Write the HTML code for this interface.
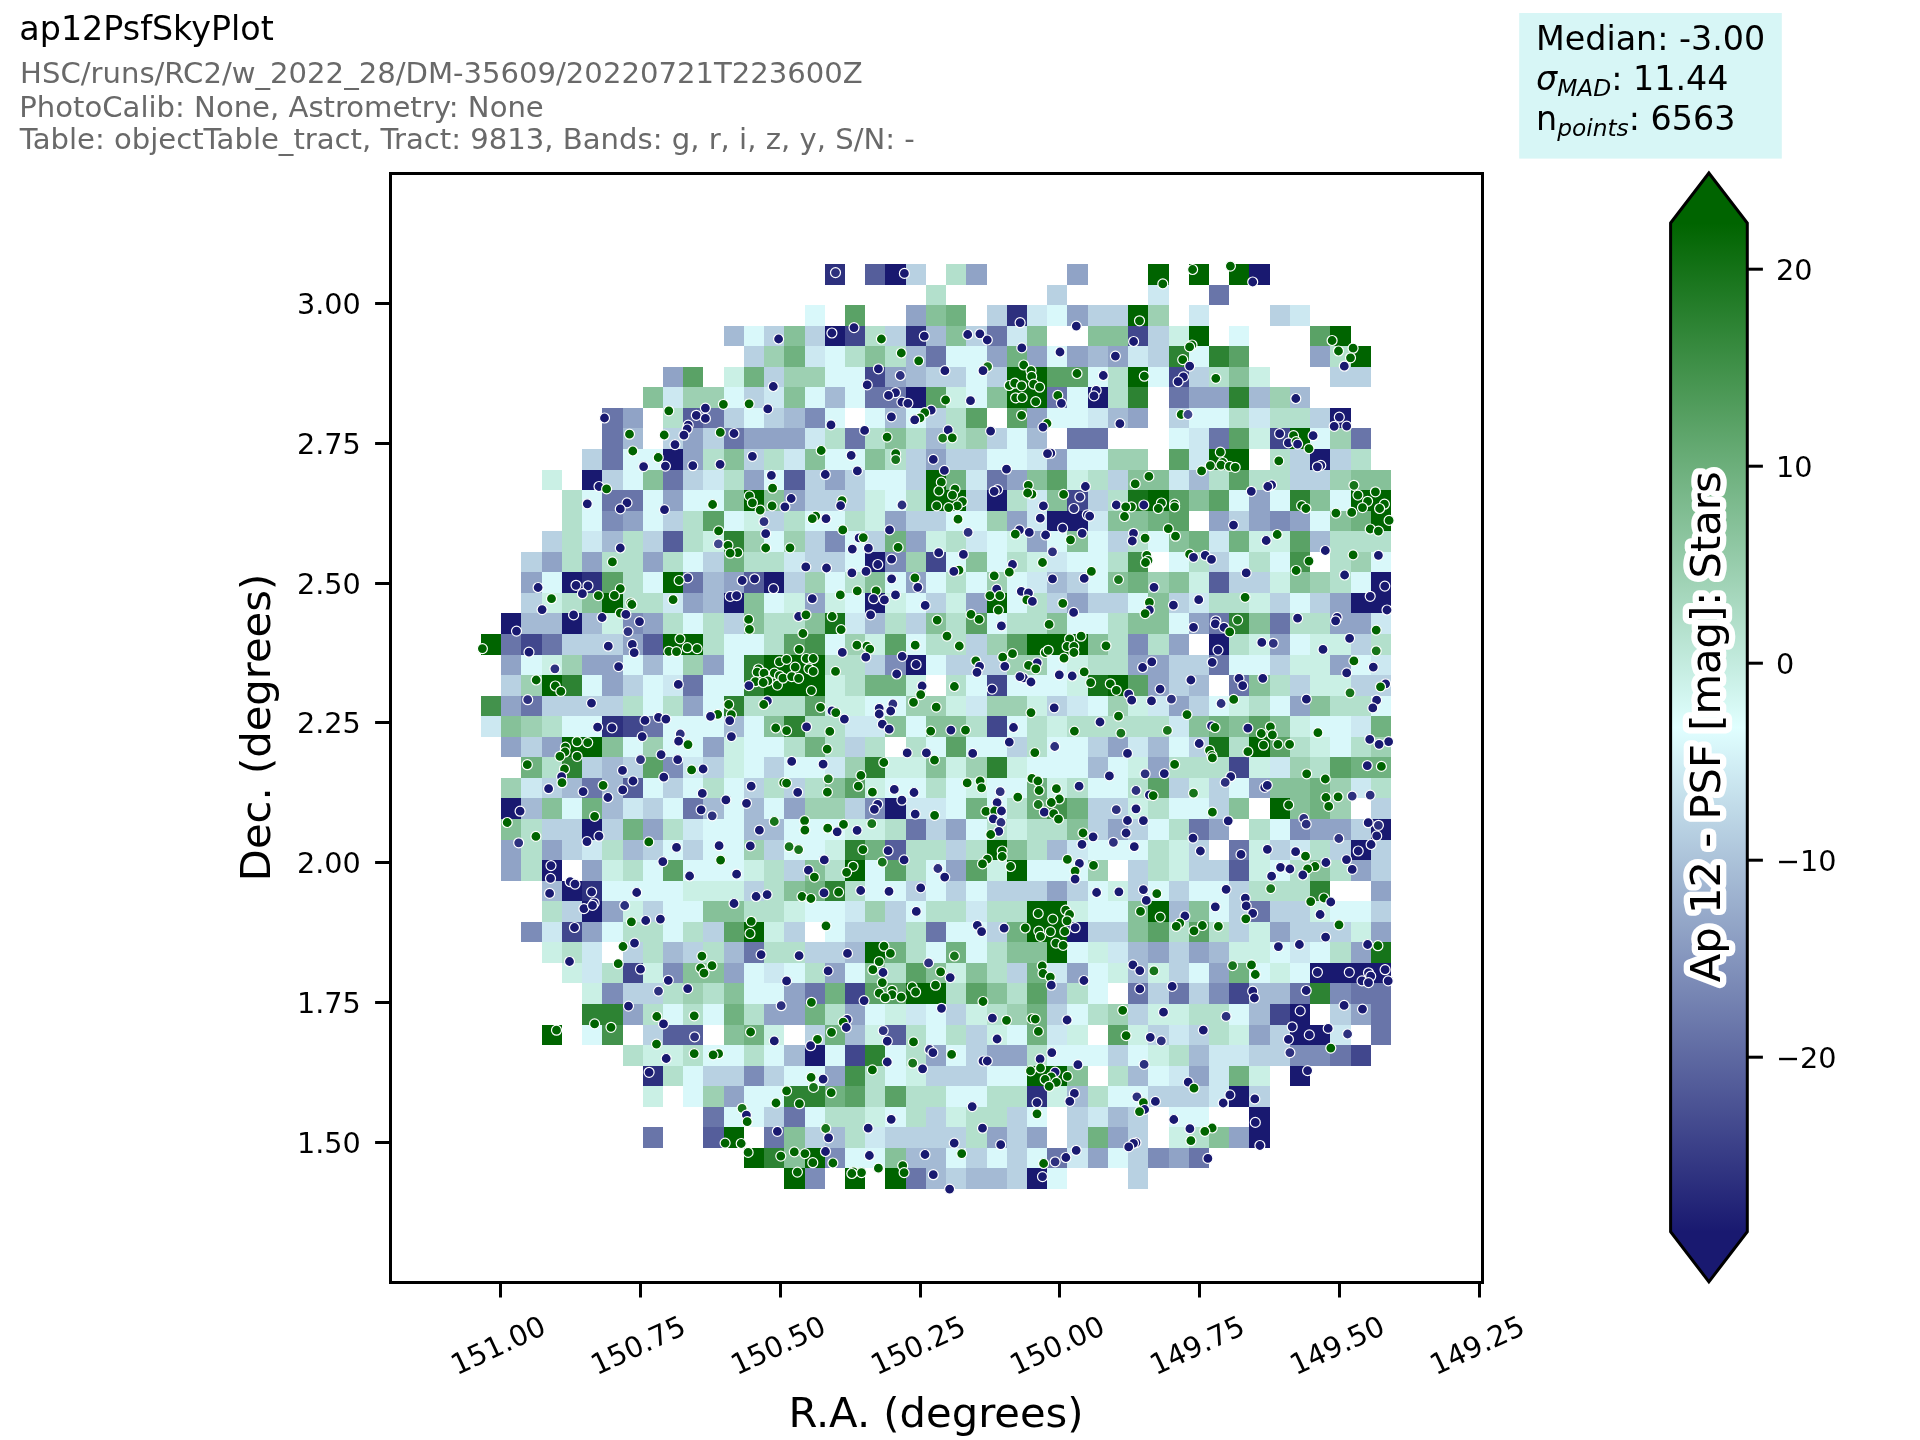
<!DOCTYPE html>
<html><head><meta charset="utf-8"><title>ap12PsfSkyPlot</title>
<style>html,body{margin:0;padding:0;background:#fff}body{width:1920px;height:1440px;overflow:hidden}svg{display:block;will-change:transform}text{font-family:"DejaVu Sans","Liberation Sans",sans-serif}</style></head><body>
<svg width="1920" height="1440" viewBox="0 0 1920 1440">
<rect width="1920" height="1440" fill="#fff"/>
<text x="19.3" y="40" font-size="33.33" fill="#000">ap12PsfSkyPlot</text>
<g font-size="29.1" fill="#696969">
<text x="20.1" y="82.6">HSC/runs/RC2/w_2022_28/DM-35609/20220721T223600Z</text>
<text x="19.3" y="116.5">PhotoCalib: None, Astrometry: None</text>
<text x="19.7" y="149">Table: objectTable_tract, Tract: 9813, Bands: g, r, i, z, y, S/N: -</text>
</g>
<rect x="1519.2" y="13" width="262.6" height="145.6" fill="#d7f6f6"/>
<g font-size="33.33" fill="#000">
<text x="1536" y="49.5">Median: -3.00</text>
<text x="1536" y="89.5"><tspan font-style="italic">σ</tspan><tspan font-style="italic" font-size="23.33" dy="6.5">MAD</tspan><tspan dy="-6.5">: 11.44</tspan></text>
<text x="1536" y="129.5">n<tspan font-style="italic" font-size="23.33" dy="6.5">points</tspan><tspan dy="-6.5">: 6563</tspan></text>
</g>
<g shape-rendering="crispEdges">
<rect x="825" y="264" width="20" height="21" fill="#2d307e"/>
<rect x="865" y="264" width="20" height="21" fill="#555e9b"/>
<rect x="885" y="264" width="21" height="21" fill="#191970"/>
<rect x="906" y="264" width="20" height="21" fill="#b8d1e2"/>
<rect x="946" y="264" width="20" height="21" fill="#b3e0cc"/>
<rect x="966" y="264" width="21" height="21" fill="#90a3c6"/>
<rect x="1067" y="264" width="21" height="21" fill="#90a3c6"/>
<rect x="1148" y="264" width="21" height="21" fill="#006400"/>
<rect x="1189" y="264" width="20" height="21" fill="#006400"/>
<rect x="1229" y="264" width="20" height="21" fill="#006400"/>
<rect x="1249" y="264" width="21" height="21" fill="#191970"/>
<rect x="926" y="285" width="20" height="20" fill="#b3e0cc"/>
<rect x="1047" y="285" width="20" height="20" fill="#b8d1e2"/>
<rect x="1148" y="285" width="21" height="20" fill="#cce8f1"/>
<rect x="1209" y="285" width="20" height="20" fill="#6975a9"/>
<rect x="805" y="305" width="20" height="21" fill="#d9f8fa"/>
<rect x="845" y="305" width="20" height="21" fill="#5aa266"/>
<rect x="906" y="305" width="20" height="21" fill="#90a3c6"/>
<rect x="926" y="305" width="20" height="21" fill="#86c199"/>
<rect x="946" y="305" width="20" height="21" fill="#70b280"/>
<rect x="987" y="305" width="20" height="21" fill="#b8d1e2"/>
<rect x="1007" y="305" width="20" height="21" fill="#2d307e"/>
<rect x="1027" y="305" width="20" height="21" fill="#cce8f1"/>
<rect x="1047" y="305" width="20" height="21" fill="#d9f8fa"/>
<rect x="1067" y="305" width="21" height="21" fill="#90a3c6"/>
<rect x="1088" y="305" width="40" height="21" fill="#b8d1e2"/>
<rect x="1128" y="305" width="20" height="21" fill="#006400"/>
<rect x="1148" y="305" width="21" height="21" fill="#9dd0b2"/>
<rect x="1189" y="305" width="20" height="21" fill="#cce8f1"/>
<rect x="1270" y="305" width="20" height="21" fill="#b8d1e2"/>
<rect x="1290" y="305" width="20" height="21" fill="#cce8f1"/>
<rect x="724" y="326" width="20" height="20" fill="#a4bad4"/>
<rect x="744" y="326" width="20" height="20" fill="#d9f8fa"/>
<rect x="764" y="326" width="20" height="20" fill="#b8d1e2"/>
<rect x="784" y="326" width="21" height="20" fill="#86c199"/>
<rect x="805" y="326" width="20" height="20" fill="#b8d1e2"/>
<rect x="825" y="326" width="20" height="20" fill="#191970"/>
<rect x="845" y="326" width="20" height="20" fill="#41478d"/>
<rect x="865" y="326" width="20" height="20" fill="#b3e0cc"/>
<rect x="885" y="326" width="21" height="20" fill="#b8d1e2"/>
<rect x="906" y="326" width="20" height="20" fill="#2d307e"/>
<rect x="926" y="326" width="20" height="20" fill="#a4bad4"/>
<rect x="946" y="326" width="20" height="20" fill="#86c199"/>
<rect x="966" y="326" width="21" height="20" fill="#b8d1e2"/>
<rect x="987" y="326" width="20" height="20" fill="#6975a9"/>
<rect x="1007" y="326" width="20" height="20" fill="#cce8f1"/>
<rect x="1027" y="326" width="20" height="20" fill="#86c199"/>
<rect x="1088" y="326" width="40" height="20" fill="#86c199"/>
<rect x="1128" y="326" width="20" height="20" fill="#41478d"/>
<rect x="1148" y="326" width="21" height="20" fill="#b8d1e2"/>
<rect x="1169" y="326" width="20" height="20" fill="#caf0e5"/>
<rect x="1189" y="326" width="20" height="20" fill="#006400"/>
<rect x="1229" y="326" width="20" height="20" fill="#d9f8fa"/>
<rect x="1310" y="326" width="20" height="20" fill="#5aa266"/>
<rect x="1330" y="326" width="21" height="20" fill="#006400"/>
<rect x="744" y="346" width="20" height="21" fill="#b8d1e2"/>
<rect x="764" y="346" width="20" height="21" fill="#9dd0b2"/>
<rect x="784" y="346" width="21" height="21" fill="#70b280"/>
<rect x="805" y="346" width="20" height="21" fill="#cce8f1"/>
<rect x="825" y="346" width="20" height="21" fill="#d9f8fa"/>
<rect x="845" y="346" width="20" height="21" fill="#b3e0cc"/>
<rect x="865" y="346" width="20" height="21" fill="#86c199"/>
<rect x="885" y="346" width="21" height="21" fill="#b3e0cc"/>
<rect x="906" y="346" width="20" height="21" fill="#a4bad4"/>
<rect x="926" y="346" width="20" height="21" fill="#6975a9"/>
<rect x="946" y="346" width="41" height="21" fill="#d9f8fa"/>
<rect x="987" y="346" width="20" height="21" fill="#90a3c6"/>
<rect x="1007" y="346" width="20" height="21" fill="#70b280"/>
<rect x="1027" y="346" width="20" height="21" fill="#90a3c6"/>
<rect x="1047" y="346" width="20" height="21" fill="#d9f8fa"/>
<rect x="1067" y="346" width="21" height="21" fill="#90a3c6"/>
<rect x="1088" y="346" width="20" height="21" fill="#a4bad4"/>
<rect x="1108" y="346" width="20" height="21" fill="#90a3c6"/>
<rect x="1128" y="346" width="20" height="21" fill="#cce8f1"/>
<rect x="1148" y="346" width="21" height="21" fill="#b8d1e2"/>
<rect x="1169" y="346" width="20" height="21" fill="#2d8333"/>
<rect x="1189" y="346" width="20" height="21" fill="#d9f8fa"/>
<rect x="1209" y="346" width="20" height="21" fill="#2d8333"/>
<rect x="1229" y="346" width="20" height="21" fill="#5aa266"/>
<rect x="1310" y="346" width="20" height="21" fill="#90a3c6"/>
<rect x="1330" y="346" width="21" height="21" fill="#b3e0cc"/>
<rect x="1351" y="346" width="20" height="21" fill="#006400"/>
<rect x="663" y="367" width="20" height="20" fill="#90a3c6"/>
<rect x="683" y="367" width="20" height="20" fill="#5aa266"/>
<rect x="724" y="367" width="20" height="20" fill="#caf0e5"/>
<rect x="744" y="367" width="20" height="20" fill="#70b280"/>
<rect x="764" y="367" width="20" height="20" fill="#b8d1e2"/>
<rect x="784" y="367" width="41" height="20" fill="#9dd0b2"/>
<rect x="825" y="367" width="40" height="20" fill="#d9f8fa"/>
<rect x="865" y="367" width="20" height="20" fill="#41478d"/>
<rect x="885" y="367" width="21" height="20" fill="#90a3c6"/>
<rect x="906" y="367" width="20" height="20" fill="#a4bad4"/>
<rect x="926" y="367" width="40" height="20" fill="#b8d1e2"/>
<rect x="966" y="367" width="21" height="20" fill="#d9f8fa"/>
<rect x="987" y="367" width="20" height="20" fill="#b8d1e2"/>
<rect x="1007" y="367" width="40" height="20" fill="#006400"/>
<rect x="1047" y="367" width="41" height="20" fill="#5aa266"/>
<rect x="1088" y="367" width="20" height="20" fill="#d9f8fa"/>
<rect x="1108" y="367" width="20" height="20" fill="#b3e0cc"/>
<rect x="1128" y="367" width="20" height="20" fill="#006400"/>
<rect x="1148" y="367" width="21" height="20" fill="#d9f8fa"/>
<rect x="1169" y="367" width="20" height="20" fill="#41478d"/>
<rect x="1189" y="367" width="20" height="20" fill="#b8d1e2"/>
<rect x="1209" y="367" width="20" height="20" fill="#b3e0cc"/>
<rect x="1229" y="367" width="20" height="20" fill="#86c199"/>
<rect x="1249" y="367" width="21" height="20" fill="#caf0e5"/>
<rect x="1330" y="367" width="41" height="20" fill="#b8d1e2"/>
<rect x="643" y="387" width="20" height="21" fill="#86c199"/>
<rect x="663" y="387" width="20" height="21" fill="#cce8f1"/>
<rect x="683" y="387" width="41" height="21" fill="#9dd0b2"/>
<rect x="724" y="387" width="20" height="21" fill="#d9f8fa"/>
<rect x="744" y="387" width="20" height="21" fill="#b8d1e2"/>
<rect x="764" y="387" width="20" height="21" fill="#cce8f1"/>
<rect x="784" y="387" width="21" height="21" fill="#86c199"/>
<rect x="805" y="387" width="20" height="21" fill="#d9f8fa"/>
<rect x="825" y="387" width="20" height="21" fill="#a4bad4"/>
<rect x="845" y="387" width="20" height="21" fill="#d9f8fa"/>
<rect x="865" y="387" width="41" height="21" fill="#6975a9"/>
<rect x="906" y="387" width="20" height="21" fill="#191970"/>
<rect x="926" y="387" width="20" height="21" fill="#5aa266"/>
<rect x="946" y="387" width="20" height="21" fill="#caf0e5"/>
<rect x="966" y="387" width="21" height="21" fill="#d9f8fa"/>
<rect x="987" y="387" width="20" height="21" fill="#86c199"/>
<rect x="1007" y="387" width="40" height="21" fill="#006400"/>
<rect x="1047" y="387" width="20" height="21" fill="#6975a9"/>
<rect x="1067" y="387" width="21" height="21" fill="#d9f8fa"/>
<rect x="1088" y="387" width="20" height="21" fill="#191970"/>
<rect x="1108" y="387" width="20" height="21" fill="#b3e0cc"/>
<rect x="1128" y="387" width="20" height="21" fill="#2d8333"/>
<rect x="1169" y="387" width="20" height="21" fill="#6975a9"/>
<rect x="1189" y="387" width="40" height="21" fill="#90a3c6"/>
<rect x="1229" y="387" width="20" height="21" fill="#2d8333"/>
<rect x="1249" y="387" width="21" height="21" fill="#a4bad4"/>
<rect x="1270" y="387" width="20" height="21" fill="#9dd0b2"/>
<rect x="1290" y="387" width="20" height="21" fill="#a4bad4"/>
<rect x="602" y="408" width="21" height="20" fill="#6975a9"/>
<rect x="623" y="408" width="20" height="20" fill="#90a3c6"/>
<rect x="663" y="408" width="20" height="20" fill="#b3e0cc"/>
<rect x="683" y="408" width="20" height="20" fill="#555e9b"/>
<rect x="703" y="408" width="21" height="20" fill="#6975a9"/>
<rect x="724" y="408" width="20" height="20" fill="#b8d1e2"/>
<rect x="744" y="408" width="20" height="20" fill="#d9f8fa"/>
<rect x="764" y="408" width="20" height="20" fill="#b8d1e2"/>
<rect x="784" y="408" width="21" height="20" fill="#a4bad4"/>
<rect x="805" y="408" width="20" height="20" fill="#7c8cb8"/>
<rect x="825" y="408" width="20" height="20" fill="#d9f8fa"/>
<rect x="865" y="408" width="20" height="20" fill="#d9f8fa"/>
<rect x="885" y="408" width="21" height="20" fill="#a4bad4"/>
<rect x="906" y="408" width="20" height="20" fill="#d9f8fa"/>
<rect x="926" y="408" width="20" height="20" fill="#b8d1e2"/>
<rect x="946" y="408" width="20" height="20" fill="#b3e0cc"/>
<rect x="966" y="408" width="21" height="20" fill="#5aa266"/>
<rect x="1007" y="408" width="20" height="20" fill="#5aa266"/>
<rect x="1027" y="408" width="20" height="20" fill="#90a3c6"/>
<rect x="1047" y="408" width="41" height="20" fill="#d9f8fa"/>
<rect x="1088" y="408" width="20" height="20" fill="#cce8f1"/>
<rect x="1108" y="408" width="20" height="20" fill="#a4bad4"/>
<rect x="1128" y="408" width="20" height="20" fill="#90a3c6"/>
<rect x="1169" y="408" width="20" height="20" fill="#b8d1e2"/>
<rect x="1189" y="408" width="40" height="20" fill="#d9f8fa"/>
<rect x="1229" y="408" width="20" height="20" fill="#b3e0cc"/>
<rect x="1249" y="408" width="21" height="20" fill="#cce8f1"/>
<rect x="1270" y="408" width="40" height="20" fill="#b3e0cc"/>
<rect x="1310" y="408" width="20" height="20" fill="#b8d1e2"/>
<rect x="1330" y="408" width="21" height="20" fill="#191970"/>
<rect x="602" y="428" width="21" height="21" fill="#6975a9"/>
<rect x="623" y="428" width="20" height="21" fill="#a4bad4"/>
<rect x="663" y="428" width="20" height="21" fill="#b8d1e2"/>
<rect x="683" y="428" width="20" height="21" fill="#90a3c6"/>
<rect x="703" y="428" width="21" height="21" fill="#b8d1e2"/>
<rect x="724" y="428" width="20" height="21" fill="#6975a9"/>
<rect x="744" y="428" width="61" height="21" fill="#90a3c6"/>
<rect x="805" y="428" width="20" height="21" fill="#cce8f1"/>
<rect x="825" y="428" width="20" height="21" fill="#b3e0cc"/>
<rect x="845" y="428" width="20" height="21" fill="#6975a9"/>
<rect x="865" y="428" width="20" height="21" fill="#b3e0cc"/>
<rect x="885" y="428" width="21" height="21" fill="#86c199"/>
<rect x="906" y="428" width="20" height="21" fill="#b3e0cc"/>
<rect x="926" y="428" width="20" height="21" fill="#a4bad4"/>
<rect x="946" y="428" width="20" height="21" fill="#b3e0cc"/>
<rect x="966" y="428" width="21" height="21" fill="#9dd0b2"/>
<rect x="987" y="428" width="20" height="21" fill="#b8d1e2"/>
<rect x="1007" y="428" width="20" height="21" fill="#d9f8fa"/>
<rect x="1027" y="428" width="20" height="21" fill="#a4bad4"/>
<rect x="1067" y="428" width="41" height="21" fill="#6975a9"/>
<rect x="1169" y="428" width="20" height="21" fill="#d9f8fa"/>
<rect x="1189" y="428" width="20" height="21" fill="#cce8f1"/>
<rect x="1209" y="428" width="20" height="21" fill="#6975a9"/>
<rect x="1229" y="428" width="20" height="21" fill="#5aa266"/>
<rect x="1249" y="428" width="21" height="21" fill="#caf0e5"/>
<rect x="1270" y="428" width="20" height="21" fill="#41478d"/>
<rect x="1290" y="428" width="20" height="21" fill="#006400"/>
<rect x="1310" y="428" width="20" height="21" fill="#d9f8fa"/>
<rect x="1330" y="428" width="21" height="21" fill="#9dd0b2"/>
<rect x="1351" y="428" width="20" height="21" fill="#6975a9"/>
<rect x="582" y="449" width="20" height="21" fill="#b8d1e2"/>
<rect x="602" y="449" width="21" height="21" fill="#6975a9"/>
<rect x="623" y="449" width="40" height="21" fill="#d9f8fa"/>
<rect x="663" y="449" width="20" height="21" fill="#191970"/>
<rect x="683" y="449" width="20" height="21" fill="#90a3c6"/>
<rect x="703" y="449" width="21" height="21" fill="#b3e0cc"/>
<rect x="724" y="449" width="20" height="21" fill="#86c199"/>
<rect x="744" y="449" width="20" height="21" fill="#b8d1e2"/>
<rect x="764" y="449" width="20" height="21" fill="#b3e0cc"/>
<rect x="784" y="449" width="21" height="21" fill="#cce8f1"/>
<rect x="805" y="449" width="20" height="21" fill="#86c199"/>
<rect x="825" y="449" width="40" height="21" fill="#d9f8fa"/>
<rect x="865" y="449" width="20" height="21" fill="#86c199"/>
<rect x="885" y="449" width="21" height="21" fill="#b3e0cc"/>
<rect x="906" y="449" width="20" height="21" fill="#b8d1e2"/>
<rect x="926" y="449" width="20" height="21" fill="#90a3c6"/>
<rect x="946" y="449" width="41" height="21" fill="#b8d1e2"/>
<rect x="987" y="449" width="40" height="21" fill="#d9f8fa"/>
<rect x="1027" y="449" width="20" height="21" fill="#cce8f1"/>
<rect x="1047" y="449" width="20" height="21" fill="#90a3c6"/>
<rect x="1067" y="449" width="41" height="21" fill="#d9f8fa"/>
<rect x="1108" y="449" width="40" height="21" fill="#9dd0b2"/>
<rect x="1169" y="449" width="20" height="21" fill="#5aa266"/>
<rect x="1189" y="449" width="20" height="21" fill="#cce8f1"/>
<rect x="1209" y="449" width="40" height="21" fill="#006400"/>
<rect x="1270" y="449" width="20" height="21" fill="#b3e0cc"/>
<rect x="1290" y="449" width="20" height="21" fill="#b8d1e2"/>
<rect x="1310" y="449" width="20" height="21" fill="#191970"/>
<rect x="1330" y="449" width="21" height="21" fill="#b8d1e2"/>
<rect x="1351" y="449" width="20" height="21" fill="#b3e0cc"/>
<rect x="542" y="470" width="20" height="20" fill="#caf0e5"/>
<rect x="582" y="470" width="20" height="20" fill="#191970"/>
<rect x="602" y="470" width="21" height="20" fill="#b8d1e2"/>
<rect x="623" y="470" width="20" height="20" fill="#d9f8fa"/>
<rect x="643" y="470" width="20" height="20" fill="#86c199"/>
<rect x="663" y="470" width="20" height="20" fill="#6975a9"/>
<rect x="683" y="470" width="20" height="20" fill="#b8d1e2"/>
<rect x="703" y="470" width="21" height="20" fill="#cce8f1"/>
<rect x="724" y="470" width="20" height="20" fill="#b3e0cc"/>
<rect x="744" y="470" width="20" height="20" fill="#90a3c6"/>
<rect x="764" y="470" width="20" height="20" fill="#d9f8fa"/>
<rect x="784" y="470" width="21" height="20" fill="#555e9b"/>
<rect x="805" y="470" width="20" height="20" fill="#b8d1e2"/>
<rect x="825" y="470" width="20" height="20" fill="#90a3c6"/>
<rect x="845" y="470" width="20" height="20" fill="#b8d1e2"/>
<rect x="865" y="470" width="41" height="20" fill="#d9f8fa"/>
<rect x="906" y="470" width="20" height="20" fill="#b8d1e2"/>
<rect x="926" y="470" width="20" height="20" fill="#006400"/>
<rect x="946" y="470" width="20" height="20" fill="#70b280"/>
<rect x="966" y="470" width="21" height="20" fill="#cce8f1"/>
<rect x="987" y="470" width="20" height="20" fill="#6975a9"/>
<rect x="1007" y="470" width="20" height="20" fill="#90a3c6"/>
<rect x="1027" y="470" width="20" height="20" fill="#86c199"/>
<rect x="1047" y="470" width="20" height="20" fill="#5aa266"/>
<rect x="1067" y="470" width="21" height="20" fill="#caf0e5"/>
<rect x="1088" y="470" width="20" height="20" fill="#b3e0cc"/>
<rect x="1108" y="470" width="20" height="20" fill="#b8d1e2"/>
<rect x="1128" y="470" width="41" height="20" fill="#86c199"/>
<rect x="1169" y="470" width="20" height="20" fill="#cce8f1"/>
<rect x="1189" y="470" width="20" height="20" fill="#a4bad4"/>
<rect x="1209" y="470" width="20" height="20" fill="#b3e0cc"/>
<rect x="1229" y="470" width="20" height="20" fill="#5aa266"/>
<rect x="1249" y="470" width="41" height="20" fill="#b3e0cc"/>
<rect x="1290" y="470" width="40" height="20" fill="#b8d1e2"/>
<rect x="1330" y="470" width="21" height="20" fill="#9dd0b2"/>
<rect x="1351" y="470" width="40" height="20" fill="#86c199"/>
<rect x="562" y="490" width="20" height="21" fill="#b3e0cc"/>
<rect x="582" y="490" width="20" height="21" fill="#d9f8fa"/>
<rect x="602" y="490" width="41" height="21" fill="#6975a9"/>
<rect x="643" y="490" width="20" height="21" fill="#d9f8fa"/>
<rect x="663" y="490" width="20" height="21" fill="#90a3c6"/>
<rect x="683" y="490" width="41" height="21" fill="#d9f8fa"/>
<rect x="724" y="490" width="20" height="21" fill="#86c199"/>
<rect x="744" y="490" width="20" height="21" fill="#006400"/>
<rect x="764" y="490" width="20" height="21" fill="#86c199"/>
<rect x="784" y="490" width="21" height="21" fill="#90a3c6"/>
<rect x="805" y="490" width="60" height="21" fill="#b8d1e2"/>
<rect x="865" y="490" width="20" height="21" fill="#caf0e5"/>
<rect x="885" y="490" width="21" height="21" fill="#d9f8fa"/>
<rect x="906" y="490" width="20" height="21" fill="#b3e0cc"/>
<rect x="926" y="490" width="40" height="21" fill="#006400"/>
<rect x="966" y="490" width="21" height="21" fill="#b8d1e2"/>
<rect x="987" y="490" width="20" height="21" fill="#191970"/>
<rect x="1007" y="490" width="20" height="21" fill="#b3e0cc"/>
<rect x="1027" y="490" width="20" height="21" fill="#cce8f1"/>
<rect x="1047" y="490" width="20" height="21" fill="#86c199"/>
<rect x="1067" y="490" width="21" height="21" fill="#41478d"/>
<rect x="1088" y="490" width="20" height="21" fill="#b8d1e2"/>
<rect x="1108" y="490" width="20" height="21" fill="#b3e0cc"/>
<rect x="1128" y="490" width="20" height="21" fill="#16741a"/>
<rect x="1148" y="490" width="21" height="21" fill="#006400"/>
<rect x="1169" y="490" width="20" height="21" fill="#5aa266"/>
<rect x="1189" y="490" width="20" height="21" fill="#86c199"/>
<rect x="1209" y="490" width="20" height="21" fill="#5aa266"/>
<rect x="1229" y="490" width="20" height="21" fill="#d9f8fa"/>
<rect x="1249" y="490" width="21" height="21" fill="#90a3c6"/>
<rect x="1270" y="490" width="20" height="21" fill="#d9f8fa"/>
<rect x="1290" y="490" width="20" height="21" fill="#2d8333"/>
<rect x="1310" y="490" width="20" height="21" fill="#86c199"/>
<rect x="1330" y="490" width="21" height="21" fill="#d9f8fa"/>
<rect x="1351" y="490" width="40" height="21" fill="#006400"/>
<rect x="562" y="511" width="20" height="20" fill="#b3e0cc"/>
<rect x="582" y="511" width="20" height="20" fill="#d9f8fa"/>
<rect x="602" y="511" width="21" height="20" fill="#7c8cb8"/>
<rect x="623" y="511" width="20" height="20" fill="#90a3c6"/>
<rect x="643" y="511" width="20" height="20" fill="#d9f8fa"/>
<rect x="663" y="511" width="20" height="20" fill="#b8d1e2"/>
<rect x="683" y="511" width="20" height="20" fill="#b3e0cc"/>
<rect x="703" y="511" width="21" height="20" fill="#5aa266"/>
<rect x="724" y="511" width="20" height="20" fill="#d9f8fa"/>
<rect x="744" y="511" width="20" height="20" fill="#caf0e5"/>
<rect x="764" y="511" width="20" height="20" fill="#b8d1e2"/>
<rect x="784" y="511" width="21" height="20" fill="#b3e0cc"/>
<rect x="805" y="511" width="40" height="20" fill="#d9f8fa"/>
<rect x="845" y="511" width="20" height="20" fill="#b3e0cc"/>
<rect x="865" y="511" width="20" height="20" fill="#caf0e5"/>
<rect x="885" y="511" width="21" height="20" fill="#90a3c6"/>
<rect x="906" y="511" width="40" height="20" fill="#b8d1e2"/>
<rect x="946" y="511" width="41" height="20" fill="#d9f8fa"/>
<rect x="987" y="511" width="20" height="20" fill="#9dd0b2"/>
<rect x="1007" y="511" width="20" height="20" fill="#90a3c6"/>
<rect x="1027" y="511" width="20" height="20" fill="#cce8f1"/>
<rect x="1047" y="511" width="41" height="20" fill="#191970"/>
<rect x="1088" y="511" width="20" height="20" fill="#cce8f1"/>
<rect x="1108" y="511" width="40" height="20" fill="#86c199"/>
<rect x="1148" y="511" width="21" height="20" fill="#70b280"/>
<rect x="1169" y="511" width="20" height="20" fill="#5aa266"/>
<rect x="1209" y="511" width="20" height="20" fill="#90a3c6"/>
<rect x="1229" y="511" width="20" height="20" fill="#b8d1e2"/>
<rect x="1249" y="511" width="21" height="20" fill="#90a3c6"/>
<rect x="1270" y="511" width="20" height="20" fill="#7c8cb8"/>
<rect x="1290" y="511" width="20" height="20" fill="#90a3c6"/>
<rect x="1310" y="511" width="20" height="20" fill="#d9f8fa"/>
<rect x="1330" y="511" width="21" height="20" fill="#86c199"/>
<rect x="1351" y="511" width="20" height="20" fill="#70b280"/>
<rect x="1371" y="511" width="20" height="20" fill="#006400"/>
<rect x="542" y="531" width="20" height="21" fill="#b8d1e2"/>
<rect x="562" y="531" width="20" height="21" fill="#b3e0cc"/>
<rect x="582" y="531" width="20" height="21" fill="#cce8f1"/>
<rect x="602" y="531" width="21" height="21" fill="#a4bad4"/>
<rect x="623" y="531" width="20" height="21" fill="#b3e0cc"/>
<rect x="643" y="531" width="20" height="21" fill="#b8d1e2"/>
<rect x="663" y="531" width="20" height="21" fill="#555e9b"/>
<rect x="683" y="531" width="20" height="21" fill="#b3e0cc"/>
<rect x="703" y="531" width="21" height="21" fill="#caf0e5"/>
<rect x="724" y="531" width="20" height="21" fill="#2d8333"/>
<rect x="744" y="531" width="20" height="21" fill="#9dd0b2"/>
<rect x="764" y="531" width="20" height="21" fill="#d9f8fa"/>
<rect x="784" y="531" width="21" height="21" fill="#9dd0b2"/>
<rect x="805" y="531" width="20" height="21" fill="#b8d1e2"/>
<rect x="825" y="531" width="20" height="21" fill="#7c8cb8"/>
<rect x="845" y="531" width="20" height="21" fill="#d9f8fa"/>
<rect x="865" y="531" width="20" height="21" fill="#b8d1e2"/>
<rect x="885" y="531" width="21" height="21" fill="#70b280"/>
<rect x="906" y="531" width="20" height="21" fill="#90a3c6"/>
<rect x="926" y="531" width="20" height="21" fill="#caf0e5"/>
<rect x="946" y="531" width="20" height="21" fill="#b3e0cc"/>
<rect x="966" y="531" width="21" height="21" fill="#cce8f1"/>
<rect x="987" y="531" width="20" height="21" fill="#d9f8fa"/>
<rect x="1007" y="531" width="20" height="21" fill="#caf0e5"/>
<rect x="1027" y="531" width="20" height="21" fill="#90a3c6"/>
<rect x="1047" y="531" width="20" height="21" fill="#d9f8fa"/>
<rect x="1067" y="531" width="21" height="21" fill="#86c199"/>
<rect x="1088" y="531" width="20" height="21" fill="#d9f8fa"/>
<rect x="1108" y="531" width="20" height="21" fill="#b8d1e2"/>
<rect x="1128" y="531" width="20" height="21" fill="#b3e0cc"/>
<rect x="1148" y="531" width="21" height="21" fill="#d9f8fa"/>
<rect x="1169" y="531" width="20" height="21" fill="#86c199"/>
<rect x="1189" y="531" width="20" height="21" fill="#70b280"/>
<rect x="1209" y="531" width="20" height="21" fill="#cce8f1"/>
<rect x="1229" y="531" width="20" height="21" fill="#70b280"/>
<rect x="1249" y="531" width="41" height="21" fill="#caf0e5"/>
<rect x="1290" y="531" width="20" height="21" fill="#5aa266"/>
<rect x="1310" y="531" width="20" height="21" fill="#a4bad4"/>
<rect x="1330" y="531" width="61" height="21" fill="#b3e0cc"/>
<rect x="521" y="552" width="21" height="20" fill="#b8d1e2"/>
<rect x="542" y="552" width="20" height="20" fill="#90a3c6"/>
<rect x="562" y="552" width="20" height="20" fill="#b3e0cc"/>
<rect x="582" y="552" width="20" height="20" fill="#90a3c6"/>
<rect x="602" y="552" width="41" height="20" fill="#b3e0cc"/>
<rect x="643" y="552" width="20" height="20" fill="#90a3c6"/>
<rect x="663" y="552" width="20" height="20" fill="#b3e0cc"/>
<rect x="683" y="552" width="20" height="20" fill="#d9f8fa"/>
<rect x="703" y="552" width="21" height="20" fill="#b8d1e2"/>
<rect x="724" y="552" width="20" height="20" fill="#70b280"/>
<rect x="744" y="552" width="40" height="20" fill="#b3e0cc"/>
<rect x="784" y="552" width="21" height="20" fill="#cce8f1"/>
<rect x="805" y="552" width="40" height="20" fill="#b8d1e2"/>
<rect x="845" y="552" width="20" height="20" fill="#d9f8fa"/>
<rect x="865" y="552" width="20" height="20" fill="#191970"/>
<rect x="885" y="552" width="21" height="20" fill="#7c8cb8"/>
<rect x="906" y="552" width="20" height="20" fill="#9dd0b2"/>
<rect x="926" y="552" width="20" height="20" fill="#41478d"/>
<rect x="946" y="552" width="20" height="20" fill="#d9f8fa"/>
<rect x="966" y="552" width="21" height="20" fill="#86c199"/>
<rect x="987" y="552" width="20" height="20" fill="#d9f8fa"/>
<rect x="1007" y="552" width="20" height="20" fill="#b3e0cc"/>
<rect x="1027" y="552" width="20" height="20" fill="#caf0e5"/>
<rect x="1047" y="552" width="20" height="20" fill="#cce8f1"/>
<rect x="1067" y="552" width="41" height="20" fill="#d9f8fa"/>
<rect x="1108" y="552" width="20" height="20" fill="#b3e0cc"/>
<rect x="1128" y="552" width="20" height="20" fill="#43924c"/>
<rect x="1169" y="552" width="20" height="20" fill="#d9f8fa"/>
<rect x="1189" y="552" width="20" height="20" fill="#b3e0cc"/>
<rect x="1209" y="552" width="20" height="20" fill="#b8d1e2"/>
<rect x="1229" y="552" width="20" height="20" fill="#d9f8fa"/>
<rect x="1249" y="552" width="21" height="20" fill="#b3e0cc"/>
<rect x="1270" y="552" width="20" height="20" fill="#d9f8fa"/>
<rect x="1290" y="552" width="20" height="20" fill="#43924c"/>
<rect x="1330" y="552" width="21" height="20" fill="#b3e0cc"/>
<rect x="1351" y="552" width="20" height="20" fill="#9dd0b2"/>
<rect x="1371" y="552" width="20" height="20" fill="#d9f8fa"/>
<rect x="521" y="572" width="21" height="21" fill="#90a3c6"/>
<rect x="542" y="572" width="20" height="21" fill="#d9f8fa"/>
<rect x="562" y="572" width="20" height="21" fill="#191970"/>
<rect x="582" y="572" width="20" height="21" fill="#2d307e"/>
<rect x="602" y="572" width="21" height="21" fill="#5aa266"/>
<rect x="623" y="572" width="20" height="21" fill="#b3e0cc"/>
<rect x="643" y="572" width="20" height="21" fill="#d9f8fa"/>
<rect x="663" y="572" width="20" height="21" fill="#006400"/>
<rect x="683" y="572" width="20" height="21" fill="#6975a9"/>
<rect x="703" y="572" width="21" height="21" fill="#a4bad4"/>
<rect x="724" y="572" width="20" height="21" fill="#90a3c6"/>
<rect x="744" y="572" width="20" height="21" fill="#555e9b"/>
<rect x="764" y="572" width="20" height="21" fill="#191970"/>
<rect x="784" y="572" width="21" height="21" fill="#b8d1e2"/>
<rect x="805" y="572" width="20" height="21" fill="#9dd0b2"/>
<rect x="825" y="572" width="20" height="21" fill="#d9f8fa"/>
<rect x="845" y="572" width="20" height="21" fill="#b3e0cc"/>
<rect x="865" y="572" width="20" height="21" fill="#86c199"/>
<rect x="885" y="572" width="21" height="21" fill="#d9f8fa"/>
<rect x="906" y="572" width="20" height="21" fill="#90a3c6"/>
<rect x="926" y="572" width="20" height="21" fill="#d9f8fa"/>
<rect x="946" y="572" width="20" height="21" fill="#b3e0cc"/>
<rect x="966" y="572" width="21" height="21" fill="#d9f8fa"/>
<rect x="987" y="572" width="20" height="21" fill="#9dd0b2"/>
<rect x="1007" y="572" width="20" height="21" fill="#d9f8fa"/>
<rect x="1027" y="572" width="20" height="21" fill="#cce8f1"/>
<rect x="1047" y="572" width="20" height="21" fill="#a4bad4"/>
<rect x="1067" y="572" width="21" height="21" fill="#b8d1e2"/>
<rect x="1088" y="572" width="20" height="21" fill="#d9f8fa"/>
<rect x="1108" y="572" width="20" height="21" fill="#86c199"/>
<rect x="1128" y="572" width="20" height="21" fill="#70b280"/>
<rect x="1148" y="572" width="21" height="21" fill="#9dd0b2"/>
<rect x="1169" y="572" width="20" height="21" fill="#86c199"/>
<rect x="1189" y="572" width="20" height="21" fill="#caf0e5"/>
<rect x="1209" y="572" width="20" height="21" fill="#555e9b"/>
<rect x="1229" y="572" width="41" height="21" fill="#b8d1e2"/>
<rect x="1270" y="572" width="20" height="21" fill="#caf0e5"/>
<rect x="1290" y="572" width="20" height="21" fill="#86c199"/>
<rect x="1310" y="572" width="20" height="21" fill="#9dd0b2"/>
<rect x="1330" y="572" width="21" height="21" fill="#b3e0cc"/>
<rect x="1351" y="572" width="20" height="21" fill="#d9f8fa"/>
<rect x="1371" y="572" width="20" height="21" fill="#191970"/>
<rect x="521" y="593" width="21" height="20" fill="#b8d1e2"/>
<rect x="542" y="593" width="20" height="20" fill="#caf0e5"/>
<rect x="562" y="593" width="20" height="20" fill="#b3e0cc"/>
<rect x="582" y="593" width="20" height="20" fill="#86c199"/>
<rect x="602" y="593" width="21" height="20" fill="#006400"/>
<rect x="623" y="593" width="40" height="20" fill="#b3e0cc"/>
<rect x="663" y="593" width="20" height="20" fill="#cce8f1"/>
<rect x="683" y="593" width="20" height="20" fill="#90a3c6"/>
<rect x="703" y="593" width="21" height="20" fill="#a4bad4"/>
<rect x="724" y="593" width="20" height="20" fill="#191970"/>
<rect x="744" y="593" width="20" height="20" fill="#86c199"/>
<rect x="764" y="593" width="20" height="20" fill="#d9f8fa"/>
<rect x="784" y="593" width="21" height="20" fill="#caf0e5"/>
<rect x="805" y="593" width="20" height="20" fill="#90a3c6"/>
<rect x="825" y="593" width="20" height="20" fill="#caf0e5"/>
<rect x="845" y="593" width="20" height="20" fill="#d9f8fa"/>
<rect x="865" y="593" width="20" height="20" fill="#191970"/>
<rect x="885" y="593" width="21" height="20" fill="#caf0e5"/>
<rect x="906" y="593" width="20" height="20" fill="#d9f8fa"/>
<rect x="926" y="593" width="20" height="20" fill="#b8d1e2"/>
<rect x="946" y="593" width="20" height="20" fill="#caf0e5"/>
<rect x="966" y="593" width="21" height="20" fill="#90a3c6"/>
<rect x="987" y="593" width="20" height="20" fill="#006400"/>
<rect x="1007" y="593" width="20" height="20" fill="#d9f8fa"/>
<rect x="1027" y="593" width="20" height="20" fill="#b3e0cc"/>
<rect x="1047" y="593" width="20" height="20" fill="#b8d1e2"/>
<rect x="1067" y="593" width="21" height="20" fill="#90a3c6"/>
<rect x="1088" y="593" width="40" height="20" fill="#b8d1e2"/>
<rect x="1128" y="593" width="20" height="20" fill="#d9f8fa"/>
<rect x="1148" y="593" width="21" height="20" fill="#86c199"/>
<rect x="1169" y="593" width="20" height="20" fill="#b8d1e2"/>
<rect x="1189" y="593" width="20" height="20" fill="#cce8f1"/>
<rect x="1209" y="593" width="40" height="20" fill="#b3e0cc"/>
<rect x="1249" y="593" width="21" height="20" fill="#caf0e5"/>
<rect x="1270" y="593" width="20" height="20" fill="#b8d1e2"/>
<rect x="1290" y="593" width="20" height="20" fill="#d9f8fa"/>
<rect x="1310" y="593" width="20" height="20" fill="#b8d1e2"/>
<rect x="1330" y="593" width="21" height="20" fill="#90a3c6"/>
<rect x="1351" y="593" width="40" height="20" fill="#191970"/>
<rect x="501" y="613" width="20" height="21" fill="#191970"/>
<rect x="521" y="613" width="41" height="21" fill="#a4bad4"/>
<rect x="562" y="613" width="20" height="21" fill="#191970"/>
<rect x="582" y="613" width="20" height="21" fill="#a4bad4"/>
<rect x="602" y="613" width="21" height="21" fill="#caf0e5"/>
<rect x="623" y="613" width="20" height="21" fill="#7c8cb8"/>
<rect x="643" y="613" width="20" height="21" fill="#90a3c6"/>
<rect x="663" y="613" width="20" height="21" fill="#b3e0cc"/>
<rect x="683" y="613" width="20" height="21" fill="#d9f8fa"/>
<rect x="703" y="613" width="21" height="21" fill="#b3e0cc"/>
<rect x="724" y="613" width="20" height="21" fill="#b8d1e2"/>
<rect x="744" y="613" width="20" height="21" fill="#86c199"/>
<rect x="764" y="613" width="41" height="21" fill="#b3e0cc"/>
<rect x="805" y="613" width="20" height="21" fill="#86c199"/>
<rect x="825" y="613" width="20" height="21" fill="#16741a"/>
<rect x="845" y="613" width="20" height="21" fill="#cce8f1"/>
<rect x="865" y="613" width="20" height="21" fill="#a4bad4"/>
<rect x="885" y="613" width="21" height="21" fill="#b3e0cc"/>
<rect x="906" y="613" width="20" height="21" fill="#b8d1e2"/>
<rect x="926" y="613" width="20" height="21" fill="#86c199"/>
<rect x="946" y="613" width="20" height="21" fill="#b3e0cc"/>
<rect x="966" y="613" width="21" height="21" fill="#5aa266"/>
<rect x="987" y="613" width="20" height="21" fill="#d9f8fa"/>
<rect x="1007" y="613" width="40" height="21" fill="#b3e0cc"/>
<rect x="1047" y="613" width="20" height="21" fill="#86c199"/>
<rect x="1067" y="613" width="41" height="21" fill="#d9f8fa"/>
<rect x="1108" y="613" width="20" height="21" fill="#b3e0cc"/>
<rect x="1128" y="613" width="41" height="21" fill="#86c199"/>
<rect x="1169" y="613" width="20" height="21" fill="#d9f8fa"/>
<rect x="1189" y="613" width="20" height="21" fill="#90a3c6"/>
<rect x="1209" y="613" width="20" height="21" fill="#6975a9"/>
<rect x="1229" y="613" width="20" height="21" fill="#2d8333"/>
<rect x="1249" y="613" width="21" height="21" fill="#86c199"/>
<rect x="1270" y="613" width="20" height="21" fill="#6975a9"/>
<rect x="1290" y="613" width="40" height="21" fill="#b3e0cc"/>
<rect x="1330" y="613" width="41" height="21" fill="#90a3c6"/>
<rect x="1371" y="613" width="20" height="21" fill="#cce8f1"/>
<rect x="481" y="634" width="20" height="21" fill="#006400"/>
<rect x="501" y="634" width="20" height="21" fill="#6975a9"/>
<rect x="521" y="634" width="21" height="21" fill="#41478d"/>
<rect x="542" y="634" width="20" height="21" fill="#6975a9"/>
<rect x="562" y="634" width="61" height="21" fill="#b8d1e2"/>
<rect x="623" y="634" width="20" height="21" fill="#90a3c6"/>
<rect x="643" y="634" width="20" height="21" fill="#555e9b"/>
<rect x="663" y="634" width="40" height="21" fill="#006400"/>
<rect x="703" y="634" width="21" height="21" fill="#b3e0cc"/>
<rect x="724" y="634" width="40" height="21" fill="#d9f8fa"/>
<rect x="764" y="634" width="20" height="21" fill="#b3e0cc"/>
<rect x="784" y="634" width="21" height="21" fill="#5aa266"/>
<rect x="805" y="634" width="20" height="21" fill="#43924c"/>
<rect x="825" y="634" width="20" height="21" fill="#d9f8fa"/>
<rect x="845" y="634" width="20" height="21" fill="#9dd0b2"/>
<rect x="865" y="634" width="20" height="21" fill="#caf0e5"/>
<rect x="885" y="634" width="21" height="21" fill="#5aa266"/>
<rect x="906" y="634" width="20" height="21" fill="#d9f8fa"/>
<rect x="926" y="634" width="40" height="21" fill="#b3e0cc"/>
<rect x="966" y="634" width="21" height="21" fill="#b8d1e2"/>
<rect x="987" y="634" width="20" height="21" fill="#9dd0b2"/>
<rect x="1007" y="634" width="20" height="21" fill="#5aa266"/>
<rect x="1027" y="634" width="61" height="21" fill="#006400"/>
<rect x="1088" y="634" width="20" height="21" fill="#86c199"/>
<rect x="1108" y="634" width="20" height="21" fill="#b3e0cc"/>
<rect x="1128" y="634" width="20" height="21" fill="#7c8cb8"/>
<rect x="1148" y="634" width="21" height="21" fill="#b3e0cc"/>
<rect x="1169" y="634" width="20" height="21" fill="#90a3c6"/>
<rect x="1209" y="634" width="20" height="21" fill="#191970"/>
<rect x="1229" y="634" width="20" height="21" fill="#b3e0cc"/>
<rect x="1249" y="634" width="21" height="21" fill="#caf0e5"/>
<rect x="1270" y="634" width="20" height="21" fill="#90a3c6"/>
<rect x="1290" y="634" width="20" height="21" fill="#d9f8fa"/>
<rect x="1310" y="634" width="41" height="21" fill="#caf0e5"/>
<rect x="1351" y="634" width="20" height="21" fill="#b8d1e2"/>
<rect x="1371" y="634" width="20" height="21" fill="#b3e0cc"/>
<rect x="501" y="655" width="20" height="20" fill="#90a3c6"/>
<rect x="521" y="655" width="21" height="20" fill="#d9f8fa"/>
<rect x="542" y="655" width="20" height="20" fill="#caf0e5"/>
<rect x="562" y="655" width="20" height="20" fill="#9dd0b2"/>
<rect x="582" y="655" width="41" height="20" fill="#90a3c6"/>
<rect x="623" y="655" width="20" height="20" fill="#d9f8fa"/>
<rect x="643" y="655" width="20" height="20" fill="#a4bad4"/>
<rect x="663" y="655" width="20" height="20" fill="#d9f8fa"/>
<rect x="683" y="655" width="20" height="20" fill="#9dd0b2"/>
<rect x="703" y="655" width="21" height="20" fill="#90a3c6"/>
<rect x="724" y="655" width="20" height="20" fill="#d9f8fa"/>
<rect x="744" y="655" width="20" height="20" fill="#2d8333"/>
<rect x="764" y="655" width="61" height="20" fill="#006400"/>
<rect x="825" y="655" width="40" height="20" fill="#b3e0cc"/>
<rect x="865" y="655" width="20" height="20" fill="#b8d1e2"/>
<rect x="885" y="655" width="21" height="20" fill="#7c8cb8"/>
<rect x="906" y="655" width="20" height="20" fill="#191970"/>
<rect x="926" y="655" width="20" height="20" fill="#d9f8fa"/>
<rect x="946" y="655" width="61" height="20" fill="#b8d1e2"/>
<rect x="1007" y="655" width="40" height="20" fill="#9dd0b2"/>
<rect x="1047" y="655" width="20" height="20" fill="#d9f8fa"/>
<rect x="1067" y="655" width="21" height="20" fill="#caf0e5"/>
<rect x="1088" y="655" width="40" height="20" fill="#b3e0cc"/>
<rect x="1128" y="655" width="41" height="20" fill="#90a3c6"/>
<rect x="1169" y="655" width="40" height="20" fill="#b8d1e2"/>
<rect x="1209" y="655" width="20" height="20" fill="#6975a9"/>
<rect x="1229" y="655" width="41" height="20" fill="#d9f8fa"/>
<rect x="1270" y="655" width="20" height="20" fill="#b8d1e2"/>
<rect x="1290" y="655" width="40" height="20" fill="#caf0e5"/>
<rect x="1330" y="655" width="21" height="20" fill="#90a3c6"/>
<rect x="1351" y="655" width="20" height="20" fill="#d9f8fa"/>
<rect x="1371" y="655" width="20" height="20" fill="#cce8f1"/>
<rect x="501" y="675" width="20" height="21" fill="#b8d1e2"/>
<rect x="521" y="675" width="21" height="21" fill="#9dd0b2"/>
<rect x="542" y="675" width="20" height="21" fill="#006400"/>
<rect x="562" y="675" width="20" height="21" fill="#2d8333"/>
<rect x="582" y="675" width="20" height="21" fill="#d9f8fa"/>
<rect x="602" y="675" width="21" height="21" fill="#90a3c6"/>
<rect x="623" y="675" width="20" height="21" fill="#b8d1e2"/>
<rect x="643" y="675" width="20" height="21" fill="#d9f8fa"/>
<rect x="663" y="675" width="20" height="21" fill="#cce8f1"/>
<rect x="683" y="675" width="20" height="21" fill="#6975a9"/>
<rect x="703" y="675" width="41" height="21" fill="#d9f8fa"/>
<rect x="744" y="675" width="20" height="21" fill="#2d8333"/>
<rect x="764" y="675" width="61" height="21" fill="#006400"/>
<rect x="825" y="675" width="20" height="21" fill="#caf0e5"/>
<rect x="845" y="675" width="20" height="21" fill="#b3e0cc"/>
<rect x="865" y="675" width="41" height="21" fill="#70b280"/>
<rect x="906" y="675" width="20" height="21" fill="#caf0e5"/>
<rect x="946" y="675" width="20" height="21" fill="#b3e0cc"/>
<rect x="966" y="675" width="21" height="21" fill="#d9f8fa"/>
<rect x="987" y="675" width="20" height="21" fill="#41478d"/>
<rect x="1007" y="675" width="60" height="21" fill="#d9f8fa"/>
<rect x="1067" y="675" width="21" height="21" fill="#caf0e5"/>
<rect x="1088" y="675" width="20" height="21" fill="#16741a"/>
<rect x="1108" y="675" width="20" height="21" fill="#006400"/>
<rect x="1128" y="675" width="20" height="21" fill="#5aa266"/>
<rect x="1148" y="675" width="21" height="21" fill="#90a3c6"/>
<rect x="1169" y="675" width="20" height="21" fill="#b8d1e2"/>
<rect x="1189" y="675" width="20" height="21" fill="#a4bad4"/>
<rect x="1229" y="675" width="20" height="21" fill="#6975a9"/>
<rect x="1249" y="675" width="21" height="21" fill="#86c199"/>
<rect x="1270" y="675" width="20" height="21" fill="#b3e0cc"/>
<rect x="1290" y="675" width="20" height="21" fill="#b8d1e2"/>
<rect x="1310" y="675" width="41" height="21" fill="#caf0e5"/>
<rect x="1351" y="675" width="40" height="21" fill="#b8d1e2"/>
<rect x="481" y="696" width="20" height="20" fill="#43924c"/>
<rect x="501" y="696" width="20" height="20" fill="#90a3c6"/>
<rect x="521" y="696" width="21" height="20" fill="#6975a9"/>
<rect x="542" y="696" width="81" height="20" fill="#b8d1e2"/>
<rect x="623" y="696" width="20" height="20" fill="#b3e0cc"/>
<rect x="643" y="696" width="20" height="20" fill="#d9f8fa"/>
<rect x="663" y="696" width="20" height="20" fill="#b3e0cc"/>
<rect x="683" y="696" width="20" height="20" fill="#90a3c6"/>
<rect x="703" y="696" width="21" height="20" fill="#d9f8fa"/>
<rect x="724" y="696" width="20" height="20" fill="#2d8333"/>
<rect x="744" y="696" width="61" height="20" fill="#b3e0cc"/>
<rect x="805" y="696" width="20" height="20" fill="#5aa266"/>
<rect x="825" y="696" width="40" height="20" fill="#caf0e5"/>
<rect x="865" y="696" width="41" height="20" fill="#d9f8fa"/>
<rect x="906" y="696" width="40" height="20" fill="#9dd0b2"/>
<rect x="946" y="696" width="20" height="20" fill="#caf0e5"/>
<rect x="966" y="696" width="21" height="20" fill="#cce8f1"/>
<rect x="987" y="696" width="40" height="20" fill="#9dd0b2"/>
<rect x="1027" y="696" width="20" height="20" fill="#caf0e5"/>
<rect x="1047" y="696" width="20" height="20" fill="#b8d1e2"/>
<rect x="1067" y="696" width="21" height="20" fill="#cce8f1"/>
<rect x="1088" y="696" width="20" height="20" fill="#d9f8fa"/>
<rect x="1108" y="696" width="20" height="20" fill="#9dd0b2"/>
<rect x="1128" y="696" width="20" height="20" fill="#caf0e5"/>
<rect x="1148" y="696" width="21" height="20" fill="#cce8f1"/>
<rect x="1169" y="696" width="20" height="20" fill="#90a3c6"/>
<rect x="1189" y="696" width="20" height="20" fill="#b8d1e2"/>
<rect x="1209" y="696" width="20" height="20" fill="#d9f8fa"/>
<rect x="1229" y="696" width="20" height="20" fill="#caf0e5"/>
<rect x="1249" y="696" width="21" height="20" fill="#b3e0cc"/>
<rect x="1270" y="696" width="20" height="20" fill="#d9f8fa"/>
<rect x="1290" y="696" width="20" height="20" fill="#90a3c6"/>
<rect x="1310" y="696" width="20" height="20" fill="#86c199"/>
<rect x="1330" y="696" width="41" height="20" fill="#b3e0cc"/>
<rect x="1371" y="696" width="20" height="20" fill="#d9f8fa"/>
<rect x="481" y="716" width="20" height="21" fill="#cce8f1"/>
<rect x="501" y="716" width="20" height="21" fill="#86c199"/>
<rect x="521" y="716" width="21" height="21" fill="#9dd0b2"/>
<rect x="542" y="716" width="20" height="21" fill="#b3e0cc"/>
<rect x="562" y="716" width="40" height="21" fill="#d9f8fa"/>
<rect x="602" y="716" width="21" height="21" fill="#2d307e"/>
<rect x="623" y="716" width="20" height="21" fill="#41478d"/>
<rect x="643" y="716" width="20" height="21" fill="#6975a9"/>
<rect x="663" y="716" width="61" height="21" fill="#d9f8fa"/>
<rect x="724" y="716" width="20" height="21" fill="#a4bad4"/>
<rect x="744" y="716" width="20" height="21" fill="#d9f8fa"/>
<rect x="764" y="716" width="20" height="21" fill="#86c199"/>
<rect x="784" y="716" width="21" height="21" fill="#2d8333"/>
<rect x="805" y="716" width="40" height="21" fill="#b3e0cc"/>
<rect x="845" y="716" width="40" height="21" fill="#cce8f1"/>
<rect x="885" y="716" width="21" height="21" fill="#86c199"/>
<rect x="906" y="716" width="20" height="21" fill="#d9f8fa"/>
<rect x="926" y="716" width="40" height="21" fill="#86c199"/>
<rect x="966" y="716" width="21" height="21" fill="#b3e0cc"/>
<rect x="987" y="716" width="20" height="21" fill="#41478d"/>
<rect x="1007" y="716" width="20" height="21" fill="#d9f8fa"/>
<rect x="1027" y="716" width="20" height="21" fill="#b3e0cc"/>
<rect x="1047" y="716" width="20" height="21" fill="#caf0e5"/>
<rect x="1067" y="716" width="102" height="21" fill="#b3e0cc"/>
<rect x="1169" y="716" width="20" height="21" fill="#cce8f1"/>
<rect x="1189" y="716" width="20" height="21" fill="#86c199"/>
<rect x="1209" y="716" width="20" height="21" fill="#70b280"/>
<rect x="1229" y="716" width="20" height="21" fill="#86c199"/>
<rect x="1249" y="716" width="21" height="21" fill="#5aa266"/>
<rect x="1270" y="716" width="20" height="21" fill="#86c199"/>
<rect x="1290" y="716" width="20" height="21" fill="#caf0e5"/>
<rect x="1310" y="716" width="41" height="21" fill="#d9f8fa"/>
<rect x="1351" y="716" width="20" height="21" fill="#cce8f1"/>
<rect x="1371" y="716" width="20" height="21" fill="#70b280"/>
<rect x="501" y="737" width="20" height="20" fill="#90a3c6"/>
<rect x="521" y="737" width="21" height="20" fill="#b8d1e2"/>
<rect x="542" y="737" width="20" height="20" fill="#90a3c6"/>
<rect x="562" y="737" width="40" height="20" fill="#006400"/>
<rect x="602" y="737" width="21" height="20" fill="#86c199"/>
<rect x="623" y="737" width="20" height="20" fill="#d9f8fa"/>
<rect x="643" y="737" width="20" height="20" fill="#9dd0b2"/>
<rect x="663" y="737" width="40" height="20" fill="#d9f8fa"/>
<rect x="703" y="737" width="21" height="20" fill="#90a3c6"/>
<rect x="724" y="737" width="20" height="20" fill="#caf0e5"/>
<rect x="744" y="737" width="40" height="20" fill="#d9f8fa"/>
<rect x="784" y="737" width="21" height="20" fill="#b3e0cc"/>
<rect x="805" y="737" width="20" height="20" fill="#70b280"/>
<rect x="825" y="737" width="20" height="20" fill="#b3e0cc"/>
<rect x="845" y="737" width="20" height="20" fill="#b8d1e2"/>
<rect x="865" y="737" width="20" height="20" fill="#b3e0cc"/>
<rect x="906" y="737" width="20" height="20" fill="#b3e0cc"/>
<rect x="926" y="737" width="20" height="20" fill="#d9f8fa"/>
<rect x="946" y="737" width="20" height="20" fill="#5aa266"/>
<rect x="966" y="737" width="41" height="20" fill="#d9f8fa"/>
<rect x="1007" y="737" width="20" height="20" fill="#b8d1e2"/>
<rect x="1027" y="737" width="20" height="20" fill="#b3e0cc"/>
<rect x="1047" y="737" width="41" height="20" fill="#d9f8fa"/>
<rect x="1088" y="737" width="20" height="20" fill="#b8d1e2"/>
<rect x="1108" y="737" width="20" height="20" fill="#90a3c6"/>
<rect x="1128" y="737" width="20" height="20" fill="#cce8f1"/>
<rect x="1148" y="737" width="21" height="20" fill="#a4bad4"/>
<rect x="1169" y="737" width="20" height="20" fill="#d9f8fa"/>
<rect x="1189" y="737" width="20" height="20" fill="#b8d1e2"/>
<rect x="1209" y="737" width="20" height="20" fill="#16741a"/>
<rect x="1229" y="737" width="20" height="20" fill="#b3e0cc"/>
<rect x="1249" y="737" width="21" height="20" fill="#006400"/>
<rect x="1270" y="737" width="20" height="20" fill="#5aa266"/>
<rect x="1290" y="737" width="20" height="20" fill="#b3e0cc"/>
<rect x="1310" y="737" width="20" height="20" fill="#caf0e5"/>
<rect x="1330" y="737" width="21" height="20" fill="#d9f8fa"/>
<rect x="1351" y="737" width="20" height="20" fill="#b3e0cc"/>
<rect x="1371" y="737" width="20" height="20" fill="#9dd0b2"/>
<rect x="521" y="757" width="21" height="21" fill="#70b280"/>
<rect x="542" y="757" width="20" height="21" fill="#b3e0cc"/>
<rect x="562" y="757" width="20" height="21" fill="#2d8333"/>
<rect x="582" y="757" width="20" height="21" fill="#b8d1e2"/>
<rect x="602" y="757" width="21" height="21" fill="#a4bad4"/>
<rect x="623" y="757" width="20" height="21" fill="#b8d1e2"/>
<rect x="643" y="757" width="20" height="21" fill="#5aa266"/>
<rect x="663" y="757" width="20" height="21" fill="#7c8cb8"/>
<rect x="683" y="757" width="20" height="21" fill="#cce8f1"/>
<rect x="703" y="757" width="21" height="21" fill="#b8d1e2"/>
<rect x="724" y="757" width="20" height="21" fill="#caf0e5"/>
<rect x="744" y="757" width="20" height="21" fill="#d9f8fa"/>
<rect x="764" y="757" width="20" height="21" fill="#b8d1e2"/>
<rect x="784" y="757" width="41" height="21" fill="#d9f8fa"/>
<rect x="825" y="757" width="20" height="21" fill="#cce8f1"/>
<rect x="845" y="757" width="20" height="21" fill="#9dd0b2"/>
<rect x="865" y="757" width="20" height="21" fill="#2d8333"/>
<rect x="885" y="757" width="41" height="21" fill="#caf0e5"/>
<rect x="926" y="757" width="20" height="21" fill="#86c199"/>
<rect x="946" y="757" width="20" height="21" fill="#caf0e5"/>
<rect x="966" y="757" width="21" height="21" fill="#9dd0b2"/>
<rect x="987" y="757" width="20" height="21" fill="#2d8333"/>
<rect x="1007" y="757" width="20" height="21" fill="#caf0e5"/>
<rect x="1027" y="757" width="61" height="21" fill="#d9f8fa"/>
<rect x="1088" y="757" width="20" height="21" fill="#a4bad4"/>
<rect x="1108" y="757" width="20" height="21" fill="#d9f8fa"/>
<rect x="1128" y="757" width="20" height="21" fill="#caf0e5"/>
<rect x="1148" y="757" width="21" height="21" fill="#90a3c6"/>
<rect x="1169" y="757" width="60" height="21" fill="#b3e0cc"/>
<rect x="1229" y="757" width="20" height="21" fill="#41478d"/>
<rect x="1249" y="757" width="21" height="21" fill="#caf0e5"/>
<rect x="1270" y="757" width="20" height="21" fill="#cce8f1"/>
<rect x="1290" y="757" width="20" height="21" fill="#9dd0b2"/>
<rect x="1310" y="757" width="20" height="21" fill="#b3e0cc"/>
<rect x="1330" y="757" width="21" height="21" fill="#5aa266"/>
<rect x="1351" y="757" width="40" height="21" fill="#70b280"/>
<rect x="501" y="778" width="20" height="20" fill="#9dd0b2"/>
<rect x="521" y="778" width="21" height="20" fill="#cce8f1"/>
<rect x="542" y="778" width="20" height="20" fill="#b8d1e2"/>
<rect x="562" y="778" width="20" height="20" fill="#a4bad4"/>
<rect x="582" y="778" width="20" height="20" fill="#6975a9"/>
<rect x="602" y="778" width="21" height="20" fill="#a4bad4"/>
<rect x="623" y="778" width="20" height="20" fill="#555e9b"/>
<rect x="643" y="778" width="20" height="20" fill="#d9f8fa"/>
<rect x="663" y="778" width="20" height="20" fill="#b8d1e2"/>
<rect x="683" y="778" width="20" height="20" fill="#d9f8fa"/>
<rect x="703" y="778" width="21" height="20" fill="#b3e0cc"/>
<rect x="724" y="778" width="20" height="20" fill="#d9f8fa"/>
<rect x="744" y="778" width="20" height="20" fill="#b8d1e2"/>
<rect x="764" y="778" width="20" height="20" fill="#b3e0cc"/>
<rect x="784" y="778" width="21" height="20" fill="#b8d1e2"/>
<rect x="805" y="778" width="20" height="20" fill="#b3e0cc"/>
<rect x="825" y="778" width="20" height="20" fill="#86c199"/>
<rect x="845" y="778" width="20" height="20" fill="#5aa266"/>
<rect x="865" y="778" width="20" height="20" fill="#caf0e5"/>
<rect x="885" y="778" width="41" height="20" fill="#d9f8fa"/>
<rect x="926" y="778" width="20" height="20" fill="#b3e0cc"/>
<rect x="946" y="778" width="20" height="20" fill="#d9f8fa"/>
<rect x="966" y="778" width="21" height="20" fill="#caf0e5"/>
<rect x="987" y="778" width="40" height="20" fill="#d9f8fa"/>
<rect x="1027" y="778" width="20" height="20" fill="#70b280"/>
<rect x="1047" y="778" width="20" height="20" fill="#caf0e5"/>
<rect x="1067" y="778" width="21" height="20" fill="#b3e0cc"/>
<rect x="1088" y="778" width="40" height="20" fill="#d9f8fa"/>
<rect x="1128" y="778" width="20" height="20" fill="#b3e0cc"/>
<rect x="1148" y="778" width="21" height="20" fill="#5aa266"/>
<rect x="1169" y="778" width="20" height="20" fill="#b8d1e2"/>
<rect x="1189" y="778" width="20" height="20" fill="#caf0e5"/>
<rect x="1209" y="778" width="20" height="20" fill="#b8d1e2"/>
<rect x="1229" y="778" width="20" height="20" fill="#d9f8fa"/>
<rect x="1249" y="778" width="21" height="20" fill="#90a3c6"/>
<rect x="1270" y="778" width="40" height="20" fill="#86c199"/>
<rect x="1310" y="778" width="20" height="20" fill="#70b280"/>
<rect x="1330" y="778" width="21" height="20" fill="#9dd0b2"/>
<rect x="1351" y="778" width="20" height="20" fill="#cce8f1"/>
<rect x="1371" y="778" width="20" height="20" fill="#b3e0cc"/>
<rect x="501" y="798" width="20" height="21" fill="#191970"/>
<rect x="521" y="798" width="21" height="21" fill="#a4bad4"/>
<rect x="542" y="798" width="20" height="21" fill="#86c199"/>
<rect x="562" y="798" width="20" height="21" fill="#d9f8fa"/>
<rect x="582" y="798" width="20" height="21" fill="#70b280"/>
<rect x="602" y="798" width="21" height="21" fill="#a4bad4"/>
<rect x="623" y="798" width="20" height="21" fill="#cce8f1"/>
<rect x="643" y="798" width="20" height="21" fill="#b8d1e2"/>
<rect x="663" y="798" width="20" height="21" fill="#d9f8fa"/>
<rect x="683" y="798" width="20" height="21" fill="#6975a9"/>
<rect x="703" y="798" width="21" height="21" fill="#a4bad4"/>
<rect x="724" y="798" width="20" height="21" fill="#d9f8fa"/>
<rect x="744" y="798" width="20" height="21" fill="#a4bad4"/>
<rect x="764" y="798" width="20" height="21" fill="#d9f8fa"/>
<rect x="784" y="798" width="21" height="21" fill="#90a3c6"/>
<rect x="805" y="798" width="40" height="21" fill="#9dd0b2"/>
<rect x="845" y="798" width="20" height="21" fill="#b8d1e2"/>
<rect x="865" y="798" width="20" height="21" fill="#7c8cb8"/>
<rect x="885" y="798" width="21" height="21" fill="#191970"/>
<rect x="906" y="798" width="40" height="21" fill="#cce8f1"/>
<rect x="946" y="798" width="20" height="21" fill="#d9f8fa"/>
<rect x="966" y="798" width="21" height="21" fill="#70b280"/>
<rect x="987" y="798" width="20" height="21" fill="#d9f8fa"/>
<rect x="1007" y="798" width="20" height="21" fill="#b3e0cc"/>
<rect x="1027" y="798" width="20" height="21" fill="#70b280"/>
<rect x="1047" y="798" width="20" height="21" fill="#43924c"/>
<rect x="1067" y="798" width="21" height="21" fill="#70b280"/>
<rect x="1088" y="798" width="40" height="21" fill="#b8d1e2"/>
<rect x="1128" y="798" width="20" height="21" fill="#caf0e5"/>
<rect x="1148" y="798" width="21" height="21" fill="#b3e0cc"/>
<rect x="1169" y="798" width="40" height="21" fill="#d9f8fa"/>
<rect x="1209" y="798" width="20" height="21" fill="#b8d1e2"/>
<rect x="1229" y="798" width="20" height="21" fill="#86c199"/>
<rect x="1270" y="798" width="20" height="21" fill="#006400"/>
<rect x="1290" y="798" width="20" height="21" fill="#86c199"/>
<rect x="1310" y="798" width="20" height="21" fill="#70b280"/>
<rect x="1330" y="798" width="21" height="21" fill="#9dd0b2"/>
<rect x="1371" y="798" width="20" height="21" fill="#b8d1e2"/>
<rect x="501" y="819" width="20" height="21" fill="#86c199"/>
<rect x="521" y="819" width="21" height="21" fill="#b3e0cc"/>
<rect x="542" y="819" width="40" height="21" fill="#b8d1e2"/>
<rect x="582" y="819" width="20" height="21" fill="#191970"/>
<rect x="602" y="819" width="21" height="21" fill="#b8d1e2"/>
<rect x="623" y="819" width="20" height="21" fill="#70b280"/>
<rect x="643" y="819" width="20" height="21" fill="#90a3c6"/>
<rect x="663" y="819" width="20" height="21" fill="#b3e0cc"/>
<rect x="683" y="819" width="20" height="21" fill="#cce8f1"/>
<rect x="703" y="819" width="41" height="21" fill="#d9f8fa"/>
<rect x="744" y="819" width="40" height="21" fill="#a4bad4"/>
<rect x="784" y="819" width="61" height="21" fill="#d9f8fa"/>
<rect x="845" y="819" width="40" height="21" fill="#caf0e5"/>
<rect x="885" y="819" width="21" height="21" fill="#b3e0cc"/>
<rect x="906" y="819" width="20" height="21" fill="#6975a9"/>
<rect x="926" y="819" width="20" height="21" fill="#b8d1e2"/>
<rect x="946" y="819" width="20" height="21" fill="#90a3c6"/>
<rect x="966" y="819" width="21" height="21" fill="#d9f8fa"/>
<rect x="987" y="819" width="20" height="21" fill="#b3e0cc"/>
<rect x="1007" y="819" width="20" height="21" fill="#caf0e5"/>
<rect x="1027" y="819" width="40" height="21" fill="#b3e0cc"/>
<rect x="1067" y="819" width="21" height="21" fill="#86c199"/>
<rect x="1088" y="819" width="20" height="21" fill="#b8d1e2"/>
<rect x="1108" y="819" width="20" height="21" fill="#90a3c6"/>
<rect x="1128" y="819" width="20" height="21" fill="#b8d1e2"/>
<rect x="1148" y="819" width="21" height="21" fill="#d9f8fa"/>
<rect x="1169" y="819" width="20" height="21" fill="#b3e0cc"/>
<rect x="1189" y="819" width="20" height="21" fill="#6975a9"/>
<rect x="1209" y="819" width="20" height="21" fill="#90a3c6"/>
<rect x="1249" y="819" width="21" height="21" fill="#b3e0cc"/>
<rect x="1270" y="819" width="20" height="21" fill="#d9f8fa"/>
<rect x="1290" y="819" width="20" height="21" fill="#7c8cb8"/>
<rect x="1310" y="819" width="41" height="21" fill="#90a3c6"/>
<rect x="1351" y="819" width="20" height="21" fill="#b8d1e2"/>
<rect x="1371" y="819" width="20" height="21" fill="#191970"/>
<rect x="501" y="840" width="20" height="20" fill="#90a3c6"/>
<rect x="521" y="840" width="21" height="20" fill="#b3e0cc"/>
<rect x="542" y="840" width="20" height="20" fill="#90a3c6"/>
<rect x="562" y="840" width="20" height="20" fill="#b8d1e2"/>
<rect x="582" y="840" width="20" height="20" fill="#cce8f1"/>
<rect x="602" y="840" width="21" height="20" fill="#b3e0cc"/>
<rect x="623" y="840" width="20" height="20" fill="#a4bad4"/>
<rect x="643" y="840" width="20" height="20" fill="#b8d1e2"/>
<rect x="663" y="840" width="20" height="20" fill="#d9f8fa"/>
<rect x="683" y="840" width="20" height="20" fill="#b8d1e2"/>
<rect x="703" y="840" width="41" height="20" fill="#d9f8fa"/>
<rect x="744" y="840" width="20" height="20" fill="#9dd0b2"/>
<rect x="764" y="840" width="20" height="20" fill="#b8d1e2"/>
<rect x="784" y="840" width="41" height="20" fill="#d9f8fa"/>
<rect x="825" y="840" width="20" height="20" fill="#caf0e5"/>
<rect x="845" y="840" width="20" height="20" fill="#2d8333"/>
<rect x="865" y="840" width="20" height="20" fill="#70b280"/>
<rect x="885" y="840" width="21" height="20" fill="#555e9b"/>
<rect x="906" y="840" width="40" height="20" fill="#b3e0cc"/>
<rect x="946" y="840" width="20" height="20" fill="#b8d1e2"/>
<rect x="966" y="840" width="21" height="20" fill="#b3e0cc"/>
<rect x="987" y="840" width="20" height="20" fill="#006400"/>
<rect x="1007" y="840" width="20" height="20" fill="#86c199"/>
<rect x="1027" y="840" width="20" height="20" fill="#b3e0cc"/>
<rect x="1047" y="840" width="20" height="20" fill="#a4bad4"/>
<rect x="1067" y="840" width="21" height="20" fill="#cce8f1"/>
<rect x="1088" y="840" width="60" height="20" fill="#d9f8fa"/>
<rect x="1148" y="840" width="21" height="20" fill="#b3e0cc"/>
<rect x="1169" y="840" width="20" height="20" fill="#caf0e5"/>
<rect x="1189" y="840" width="20" height="20" fill="#b8d1e2"/>
<rect x="1229" y="840" width="20" height="20" fill="#6975a9"/>
<rect x="1249" y="840" width="21" height="20" fill="#caf0e5"/>
<rect x="1270" y="840" width="20" height="20" fill="#b8d1e2"/>
<rect x="1290" y="840" width="20" height="20" fill="#cce8f1"/>
<rect x="1310" y="840" width="20" height="20" fill="#b3e0cc"/>
<rect x="1330" y="840" width="21" height="20" fill="#b8d1e2"/>
<rect x="1351" y="840" width="20" height="20" fill="#191970"/>
<rect x="1371" y="840" width="20" height="20" fill="#b8d1e2"/>
<rect x="501" y="860" width="20" height="21" fill="#90a3c6"/>
<rect x="521" y="860" width="21" height="21" fill="#b3e0cc"/>
<rect x="542" y="860" width="20" height="21" fill="#191970"/>
<rect x="582" y="860" width="20" height="21" fill="#90a3c6"/>
<rect x="602" y="860" width="21" height="21" fill="#caf0e5"/>
<rect x="623" y="860" width="20" height="21" fill="#b3e0cc"/>
<rect x="643" y="860" width="20" height="21" fill="#d9f8fa"/>
<rect x="663" y="860" width="20" height="21" fill="#5aa266"/>
<rect x="683" y="860" width="61" height="21" fill="#d9f8fa"/>
<rect x="744" y="860" width="20" height="21" fill="#caf0e5"/>
<rect x="764" y="860" width="20" height="21" fill="#b3e0cc"/>
<rect x="784" y="860" width="21" height="21" fill="#b8d1e2"/>
<rect x="805" y="860" width="20" height="21" fill="#86c199"/>
<rect x="825" y="860" width="20" height="21" fill="#b3e0cc"/>
<rect x="845" y="860" width="20" height="21" fill="#006400"/>
<rect x="865" y="860" width="20" height="21" fill="#d9f8fa"/>
<rect x="885" y="860" width="21" height="21" fill="#5aa266"/>
<rect x="906" y="860" width="20" height="21" fill="#b3e0cc"/>
<rect x="926" y="860" width="20" height="21" fill="#d9f8fa"/>
<rect x="946" y="860" width="20" height="21" fill="#90a3c6"/>
<rect x="966" y="860" width="21" height="21" fill="#5aa266"/>
<rect x="987" y="860" width="20" height="21" fill="#caf0e5"/>
<rect x="1007" y="860" width="20" height="21" fill="#006400"/>
<rect x="1027" y="860" width="61" height="21" fill="#d9f8fa"/>
<rect x="1088" y="860" width="20" height="21" fill="#9dd0b2"/>
<rect x="1128" y="860" width="20" height="21" fill="#b8d1e2"/>
<rect x="1148" y="860" width="21" height="21" fill="#b3e0cc"/>
<rect x="1169" y="860" width="20" height="21" fill="#caf0e5"/>
<rect x="1189" y="860" width="40" height="21" fill="#b8d1e2"/>
<rect x="1229" y="860" width="20" height="21" fill="#555e9b"/>
<rect x="1249" y="860" width="21" height="21" fill="#caf0e5"/>
<rect x="1270" y="860" width="20" height="21" fill="#d9f8fa"/>
<rect x="1290" y="860" width="20" height="21" fill="#b3e0cc"/>
<rect x="1310" y="860" width="20" height="21" fill="#86c199"/>
<rect x="1330" y="860" width="21" height="21" fill="#b3e0cc"/>
<rect x="1351" y="860" width="20" height="21" fill="#90a3c6"/>
<rect x="1371" y="860" width="20" height="21" fill="#b8d1e2"/>
<rect x="542" y="881" width="20" height="20" fill="#a4bad4"/>
<rect x="562" y="881" width="20" height="20" fill="#191970"/>
<rect x="582" y="881" width="20" height="20" fill="#2d307e"/>
<rect x="602" y="881" width="81" height="20" fill="#d9f8fa"/>
<rect x="683" y="881" width="61" height="20" fill="#caf0e5"/>
<rect x="744" y="881" width="20" height="20" fill="#b8d1e2"/>
<rect x="764" y="881" width="20" height="20" fill="#b3e0cc"/>
<rect x="784" y="881" width="21" height="20" fill="#86c199"/>
<rect x="805" y="881" width="20" height="20" fill="#70b280"/>
<rect x="825" y="881" width="20" height="20" fill="#2d8333"/>
<rect x="845" y="881" width="20" height="20" fill="#b3e0cc"/>
<rect x="865" y="881" width="41" height="20" fill="#d9f8fa"/>
<rect x="906" y="881" width="20" height="20" fill="#b8d1e2"/>
<rect x="926" y="881" width="20" height="20" fill="#d9f8fa"/>
<rect x="946" y="881" width="20" height="20" fill="#b8d1e2"/>
<rect x="966" y="881" width="21" height="20" fill="#d9f8fa"/>
<rect x="987" y="881" width="60" height="20" fill="#b8d1e2"/>
<rect x="1047" y="881" width="20" height="20" fill="#90a3c6"/>
<rect x="1067" y="881" width="21" height="20" fill="#b8d1e2"/>
<rect x="1088" y="881" width="20" height="20" fill="#d9f8fa"/>
<rect x="1108" y="881" width="20" height="20" fill="#caf0e5"/>
<rect x="1128" y="881" width="20" height="20" fill="#b8d1e2"/>
<rect x="1148" y="881" width="21" height="20" fill="#d9f8fa"/>
<rect x="1169" y="881" width="20" height="20" fill="#b8d1e2"/>
<rect x="1189" y="881" width="40" height="20" fill="#d9f8fa"/>
<rect x="1229" y="881" width="20" height="20" fill="#b8d1e2"/>
<rect x="1249" y="881" width="61" height="20" fill="#b3e0cc"/>
<rect x="1310" y="881" width="20" height="20" fill="#2d8333"/>
<rect x="1371" y="881" width="20" height="20" fill="#90a3c6"/>
<rect x="542" y="901" width="20" height="21" fill="#b3e0cc"/>
<rect x="562" y="901" width="20" height="21" fill="#b8d1e2"/>
<rect x="582" y="901" width="20" height="21" fill="#191970"/>
<rect x="602" y="901" width="21" height="21" fill="#90a3c6"/>
<rect x="623" y="901" width="20" height="21" fill="#caf0e5"/>
<rect x="643" y="901" width="20" height="21" fill="#b8d1e2"/>
<rect x="663" y="901" width="40" height="21" fill="#d9f8fa"/>
<rect x="703" y="901" width="41" height="21" fill="#86c199"/>
<rect x="744" y="901" width="40" height="21" fill="#b3e0cc"/>
<rect x="784" y="901" width="21" height="21" fill="#caf0e5"/>
<rect x="805" y="901" width="40" height="21" fill="#d9f8fa"/>
<rect x="845" y="901" width="20" height="21" fill="#cce8f1"/>
<rect x="865" y="901" width="20" height="21" fill="#9dd0b2"/>
<rect x="885" y="901" width="21" height="21" fill="#b8d1e2"/>
<rect x="906" y="901" width="20" height="21" fill="#d9f8fa"/>
<rect x="926" y="901" width="40" height="21" fill="#b3e0cc"/>
<rect x="966" y="901" width="21" height="21" fill="#cce8f1"/>
<rect x="987" y="901" width="40" height="21" fill="#b3e0cc"/>
<rect x="1027" y="901" width="40" height="21" fill="#006400"/>
<rect x="1067" y="901" width="21" height="21" fill="#caf0e5"/>
<rect x="1088" y="901" width="40" height="21" fill="#d9f8fa"/>
<rect x="1128" y="901" width="20" height="21" fill="#86c199"/>
<rect x="1148" y="901" width="21" height="21" fill="#006400"/>
<rect x="1169" y="901" width="20" height="21" fill="#a4bad4"/>
<rect x="1189" y="901" width="20" height="21" fill="#86c199"/>
<rect x="1209" y="901" width="20" height="21" fill="#d9f8fa"/>
<rect x="1229" y="901" width="20" height="21" fill="#b8d1e2"/>
<rect x="1249" y="901" width="21" height="21" fill="#6975a9"/>
<rect x="1270" y="901" width="40" height="21" fill="#b8d1e2"/>
<rect x="1310" y="901" width="20" height="21" fill="#caf0e5"/>
<rect x="1330" y="901" width="41" height="21" fill="#d9f8fa"/>
<rect x="1371" y="901" width="20" height="21" fill="#b8d1e2"/>
<rect x="521" y="922" width="21" height="20" fill="#7c8cb8"/>
<rect x="542" y="922" width="20" height="20" fill="#cce8f1"/>
<rect x="562" y="922" width="20" height="20" fill="#41478d"/>
<rect x="582" y="922" width="20" height="20" fill="#90a3c6"/>
<rect x="602" y="922" width="21" height="20" fill="#d9f8fa"/>
<rect x="623" y="922" width="40" height="20" fill="#b3e0cc"/>
<rect x="663" y="922" width="20" height="20" fill="#d9f8fa"/>
<rect x="683" y="922" width="20" height="20" fill="#b3e0cc"/>
<rect x="703" y="922" width="21" height="20" fill="#b8d1e2"/>
<rect x="724" y="922" width="20" height="20" fill="#5aa266"/>
<rect x="744" y="922" width="20" height="20" fill="#006400"/>
<rect x="764" y="922" width="20" height="20" fill="#caf0e5"/>
<rect x="784" y="922" width="21" height="20" fill="#b8d1e2"/>
<rect x="825" y="922" width="20" height="20" fill="#d9f8fa"/>
<rect x="845" y="922" width="61" height="20" fill="#b8d1e2"/>
<rect x="906" y="922" width="20" height="20" fill="#b3e0cc"/>
<rect x="926" y="922" width="20" height="20" fill="#6975a9"/>
<rect x="946" y="922" width="41" height="20" fill="#d9f8fa"/>
<rect x="987" y="922" width="20" height="20" fill="#b8d1e2"/>
<rect x="1007" y="922" width="20" height="20" fill="#70b280"/>
<rect x="1027" y="922" width="40" height="20" fill="#006400"/>
<rect x="1067" y="922" width="21" height="20" fill="#191970"/>
<rect x="1088" y="922" width="40" height="20" fill="#b8d1e2"/>
<rect x="1128" y="922" width="20" height="20" fill="#86c199"/>
<rect x="1148" y="922" width="21" height="20" fill="#5aa266"/>
<rect x="1169" y="922" width="20" height="20" fill="#b3e0cc"/>
<rect x="1189" y="922" width="20" height="20" fill="#5aa266"/>
<rect x="1209" y="922" width="20" height="20" fill="#b3e0cc"/>
<rect x="1229" y="922" width="20" height="20" fill="#b8d1e2"/>
<rect x="1249" y="922" width="21" height="20" fill="#caf0e5"/>
<rect x="1270" y="922" width="20" height="20" fill="#90a3c6"/>
<rect x="1290" y="922" width="61" height="20" fill="#b8d1e2"/>
<rect x="1351" y="922" width="20" height="20" fill="#caf0e5"/>
<rect x="1371" y="922" width="20" height="20" fill="#90a3c6"/>
<rect x="542" y="942" width="20" height="21" fill="#caf0e5"/>
<rect x="562" y="942" width="20" height="21" fill="#b3e0cc"/>
<rect x="582" y="942" width="20" height="21" fill="#cce8f1"/>
<rect x="623" y="942" width="20" height="21" fill="#b8d1e2"/>
<rect x="643" y="942" width="20" height="21" fill="#b3e0cc"/>
<rect x="663" y="942" width="20" height="21" fill="#a4bad4"/>
<rect x="683" y="942" width="20" height="21" fill="#b8d1e2"/>
<rect x="703" y="942" width="21" height="21" fill="#b3e0cc"/>
<rect x="724" y="942" width="20" height="21" fill="#a4bad4"/>
<rect x="744" y="942" width="20" height="21" fill="#6975a9"/>
<rect x="764" y="942" width="41" height="21" fill="#b3e0cc"/>
<rect x="805" y="942" width="40" height="21" fill="#b8d1e2"/>
<rect x="845" y="942" width="20" height="21" fill="#a4bad4"/>
<rect x="865" y="942" width="20" height="21" fill="#006400"/>
<rect x="885" y="942" width="21" height="21" fill="#70b280"/>
<rect x="906" y="942" width="20" height="21" fill="#b3e0cc"/>
<rect x="926" y="942" width="20" height="21" fill="#d9f8fa"/>
<rect x="946" y="942" width="20" height="21" fill="#70b280"/>
<rect x="966" y="942" width="21" height="21" fill="#d9f8fa"/>
<rect x="987" y="942" width="20" height="21" fill="#b3e0cc"/>
<rect x="1007" y="942" width="40" height="21" fill="#86c199"/>
<rect x="1047" y="942" width="20" height="21" fill="#006400"/>
<rect x="1067" y="942" width="21" height="21" fill="#d9f8fa"/>
<rect x="1088" y="942" width="20" height="21" fill="#caf0e5"/>
<rect x="1108" y="942" width="20" height="21" fill="#cce8f1"/>
<rect x="1128" y="942" width="20" height="21" fill="#a4bad4"/>
<rect x="1148" y="942" width="21" height="21" fill="#90a3c6"/>
<rect x="1169" y="942" width="20" height="21" fill="#b8d1e2"/>
<rect x="1189" y="942" width="20" height="21" fill="#90a3c6"/>
<rect x="1209" y="942" width="20" height="21" fill="#a4bad4"/>
<rect x="1229" y="942" width="41" height="21" fill="#caf0e5"/>
<rect x="1270" y="942" width="20" height="21" fill="#d9f8fa"/>
<rect x="1290" y="942" width="20" height="21" fill="#cce8f1"/>
<rect x="1310" y="942" width="20" height="21" fill="#d9f8fa"/>
<rect x="1330" y="942" width="21" height="21" fill="#b3e0cc"/>
<rect x="1351" y="942" width="20" height="21" fill="#90a3c6"/>
<rect x="1371" y="942" width="20" height="21" fill="#16741a"/>
<rect x="562" y="963" width="20" height="20" fill="#caf0e5"/>
<rect x="582" y="963" width="20" height="20" fill="#cce8f1"/>
<rect x="602" y="963" width="21" height="20" fill="#b3e0cc"/>
<rect x="623" y="963" width="20" height="20" fill="#41478d"/>
<rect x="643" y="963" width="20" height="20" fill="#caf0e5"/>
<rect x="663" y="963" width="20" height="20" fill="#7c8cb8"/>
<rect x="683" y="963" width="41" height="20" fill="#86c199"/>
<rect x="724" y="963" width="20" height="20" fill="#90a3c6"/>
<rect x="744" y="963" width="20" height="20" fill="#d9f8fa"/>
<rect x="764" y="963" width="20" height="20" fill="#cce8f1"/>
<rect x="784" y="963" width="21" height="20" fill="#d9f8fa"/>
<rect x="805" y="963" width="20" height="20" fill="#b3e0cc"/>
<rect x="825" y="963" width="20" height="20" fill="#90a3c6"/>
<rect x="845" y="963" width="20" height="20" fill="#d9f8fa"/>
<rect x="865" y="963" width="20" height="20" fill="#86c199"/>
<rect x="885" y="963" width="21" height="20" fill="#b3e0cc"/>
<rect x="906" y="963" width="20" height="20" fill="#5aa266"/>
<rect x="926" y="963" width="20" height="20" fill="#86c199"/>
<rect x="946" y="963" width="20" height="20" fill="#caf0e5"/>
<rect x="966" y="963" width="21" height="20" fill="#86c199"/>
<rect x="987" y="963" width="20" height="20" fill="#b3e0cc"/>
<rect x="1007" y="963" width="20" height="20" fill="#b8d1e2"/>
<rect x="1027" y="963" width="20" height="20" fill="#70b280"/>
<rect x="1047" y="963" width="20" height="20" fill="#cce8f1"/>
<rect x="1067" y="963" width="21" height="20" fill="#90a3c6"/>
<rect x="1088" y="963" width="20" height="20" fill="#d9f8fa"/>
<rect x="1108" y="963" width="20" height="20" fill="#caf0e5"/>
<rect x="1128" y="963" width="20" height="20" fill="#a4bad4"/>
<rect x="1148" y="963" width="21" height="20" fill="#caf0e5"/>
<rect x="1169" y="963" width="20" height="20" fill="#b8d1e2"/>
<rect x="1189" y="963" width="20" height="20" fill="#d9f8fa"/>
<rect x="1209" y="963" width="20" height="20" fill="#90a3c6"/>
<rect x="1229" y="963" width="20" height="20" fill="#70b280"/>
<rect x="1249" y="963" width="21" height="20" fill="#d9f8fa"/>
<rect x="1270" y="963" width="20" height="20" fill="#caf0e5"/>
<rect x="1290" y="963" width="20" height="20" fill="#d9f8fa"/>
<rect x="1310" y="963" width="81" height="20" fill="#191970"/>
<rect x="582" y="983" width="20" height="21" fill="#caf0e5"/>
<rect x="602" y="983" width="21" height="21" fill="#7c8cb8"/>
<rect x="623" y="983" width="40" height="21" fill="#b8d1e2"/>
<rect x="663" y="983" width="20" height="21" fill="#b3e0cc"/>
<rect x="683" y="983" width="20" height="21" fill="#9dd0b2"/>
<rect x="703" y="983" width="21" height="21" fill="#b3e0cc"/>
<rect x="724" y="983" width="20" height="21" fill="#86c199"/>
<rect x="744" y="983" width="40" height="21" fill="#d9f8fa"/>
<rect x="784" y="983" width="21" height="21" fill="#90a3c6"/>
<rect x="805" y="983" width="20" height="21" fill="#6975a9"/>
<rect x="825" y="983" width="20" height="21" fill="#70b280"/>
<rect x="845" y="983" width="20" height="21" fill="#41478d"/>
<rect x="865" y="983" width="41" height="21" fill="#5aa266"/>
<rect x="906" y="983" width="40" height="21" fill="#006400"/>
<rect x="946" y="983" width="20" height="21" fill="#b3e0cc"/>
<rect x="966" y="983" width="21" height="21" fill="#5aa266"/>
<rect x="987" y="983" width="20" height="21" fill="#86c199"/>
<rect x="1007" y="983" width="20" height="21" fill="#b3e0cc"/>
<rect x="1027" y="983" width="20" height="21" fill="#5aa266"/>
<rect x="1047" y="983" width="20" height="21" fill="#a4bad4"/>
<rect x="1067" y="983" width="21" height="21" fill="#b3e0cc"/>
<rect x="1088" y="983" width="20" height="21" fill="#d9f8fa"/>
<rect x="1128" y="983" width="20" height="21" fill="#6975a9"/>
<rect x="1148" y="983" width="21" height="21" fill="#b8d1e2"/>
<rect x="1169" y="983" width="20" height="21" fill="#6975a9"/>
<rect x="1189" y="983" width="20" height="21" fill="#b8d1e2"/>
<rect x="1209" y="983" width="20" height="21" fill="#7c8cb8"/>
<rect x="1229" y="983" width="20" height="21" fill="#41478d"/>
<rect x="1249" y="983" width="41" height="21" fill="#a4bad4"/>
<rect x="1290" y="983" width="20" height="21" fill="#6975a9"/>
<rect x="1310" y="983" width="20" height="21" fill="#2d8333"/>
<rect x="1330" y="983" width="21" height="21" fill="#7c8cb8"/>
<rect x="1351" y="983" width="40" height="21" fill="#6975a9"/>
<rect x="582" y="1004" width="41" height="21" fill="#2d8333"/>
<rect x="623" y="1004" width="20" height="21" fill="#90a3c6"/>
<rect x="643" y="1004" width="20" height="21" fill="#b3e0cc"/>
<rect x="663" y="1004" width="20" height="21" fill="#d9f8fa"/>
<rect x="683" y="1004" width="20" height="21" fill="#b3e0cc"/>
<rect x="703" y="1004" width="21" height="21" fill="#d9f8fa"/>
<rect x="724" y="1004" width="20" height="21" fill="#70b280"/>
<rect x="744" y="1004" width="20" height="21" fill="#b3e0cc"/>
<rect x="764" y="1004" width="41" height="21" fill="#90a3c6"/>
<rect x="805" y="1004" width="20" height="21" fill="#70b280"/>
<rect x="825" y="1004" width="20" height="21" fill="#b3e0cc"/>
<rect x="845" y="1004" width="20" height="21" fill="#90a3c6"/>
<rect x="865" y="1004" width="20" height="21" fill="#d9f8fa"/>
<rect x="885" y="1004" width="21" height="21" fill="#caf0e5"/>
<rect x="906" y="1004" width="20" height="21" fill="#cce8f1"/>
<rect x="926" y="1004" width="20" height="21" fill="#d9f8fa"/>
<rect x="946" y="1004" width="20" height="21" fill="#b8d1e2"/>
<rect x="966" y="1004" width="21" height="21" fill="#caf0e5"/>
<rect x="987" y="1004" width="20" height="21" fill="#b3e0cc"/>
<rect x="1007" y="1004" width="20" height="21" fill="#9dd0b2"/>
<rect x="1027" y="1004" width="20" height="21" fill="#70b280"/>
<rect x="1047" y="1004" width="20" height="21" fill="#b8d1e2"/>
<rect x="1067" y="1004" width="21" height="21" fill="#d9f8fa"/>
<rect x="1088" y="1004" width="20" height="21" fill="#b3e0cc"/>
<rect x="1108" y="1004" width="20" height="21" fill="#9dd0b2"/>
<rect x="1128" y="1004" width="20" height="21" fill="#b8d1e2"/>
<rect x="1148" y="1004" width="41" height="21" fill="#caf0e5"/>
<rect x="1189" y="1004" width="40" height="21" fill="#b3e0cc"/>
<rect x="1229" y="1004" width="20" height="21" fill="#d9f8fa"/>
<rect x="1249" y="1004" width="21" height="21" fill="#a4bad4"/>
<rect x="1270" y="1004" width="20" height="21" fill="#41478d"/>
<rect x="1290" y="1004" width="20" height="21" fill="#191970"/>
<rect x="1330" y="1004" width="21" height="21" fill="#b8d1e2"/>
<rect x="1351" y="1004" width="20" height="21" fill="#90a3c6"/>
<rect x="1371" y="1004" width="20" height="21" fill="#6975a9"/>
<rect x="542" y="1025" width="20" height="20" fill="#006400"/>
<rect x="582" y="1025" width="20" height="20" fill="#d9f8fa"/>
<rect x="602" y="1025" width="21" height="20" fill="#43924c"/>
<rect x="643" y="1025" width="20" height="20" fill="#b8d1e2"/>
<rect x="663" y="1025" width="40" height="20" fill="#555e9b"/>
<rect x="724" y="1025" width="20" height="20" fill="#86c199"/>
<rect x="744" y="1025" width="20" height="20" fill="#70b280"/>
<rect x="764" y="1025" width="20" height="20" fill="#caf0e5"/>
<rect x="805" y="1025" width="20" height="20" fill="#b8d1e2"/>
<rect x="825" y="1025" width="20" height="20" fill="#70b280"/>
<rect x="845" y="1025" width="20" height="20" fill="#a4bad4"/>
<rect x="865" y="1025" width="20" height="20" fill="#caf0e5"/>
<rect x="885" y="1025" width="21" height="20" fill="#555e9b"/>
<rect x="906" y="1025" width="20" height="20" fill="#b3e0cc"/>
<rect x="926" y="1025" width="20" height="20" fill="#d9f8fa"/>
<rect x="946" y="1025" width="20" height="20" fill="#b3e0cc"/>
<rect x="966" y="1025" width="21" height="20" fill="#b8d1e2"/>
<rect x="987" y="1025" width="20" height="20" fill="#caf0e5"/>
<rect x="1007" y="1025" width="20" height="20" fill="#d9f8fa"/>
<rect x="1027" y="1025" width="20" height="20" fill="#70b280"/>
<rect x="1047" y="1025" width="20" height="20" fill="#cce8f1"/>
<rect x="1067" y="1025" width="21" height="20" fill="#caf0e5"/>
<rect x="1108" y="1025" width="20" height="20" fill="#5aa266"/>
<rect x="1128" y="1025" width="20" height="20" fill="#caf0e5"/>
<rect x="1148" y="1025" width="21" height="20" fill="#b8d1e2"/>
<rect x="1169" y="1025" width="20" height="20" fill="#cce8f1"/>
<rect x="1189" y="1025" width="20" height="20" fill="#b8d1e2"/>
<rect x="1209" y="1025" width="20" height="20" fill="#b3e0cc"/>
<rect x="1229" y="1025" width="20" height="20" fill="#caf0e5"/>
<rect x="1249" y="1025" width="21" height="20" fill="#90a3c6"/>
<rect x="1270" y="1025" width="20" height="20" fill="#b8d1e2"/>
<rect x="1290" y="1025" width="40" height="20" fill="#191970"/>
<rect x="1330" y="1025" width="21" height="20" fill="#cce8f1"/>
<rect x="1371" y="1025" width="20" height="20" fill="#6975a9"/>
<rect x="623" y="1045" width="20" height="21" fill="#b3e0cc"/>
<rect x="643" y="1045" width="40" height="21" fill="#caf0e5"/>
<rect x="683" y="1045" width="20" height="21" fill="#b3e0cc"/>
<rect x="703" y="1045" width="41" height="21" fill="#d9f8fa"/>
<rect x="744" y="1045" width="20" height="21" fill="#b3e0cc"/>
<rect x="764" y="1045" width="20" height="21" fill="#d9f8fa"/>
<rect x="784" y="1045" width="21" height="21" fill="#a4bad4"/>
<rect x="805" y="1045" width="20" height="21" fill="#191970"/>
<rect x="825" y="1045" width="20" height="21" fill="#d9f8fa"/>
<rect x="845" y="1045" width="20" height="21" fill="#41478d"/>
<rect x="865" y="1045" width="20" height="21" fill="#2d8333"/>
<rect x="885" y="1045" width="21" height="21" fill="#d9f8fa"/>
<rect x="906" y="1045" width="20" height="21" fill="#b3e0cc"/>
<rect x="926" y="1045" width="20" height="21" fill="#90a3c6"/>
<rect x="946" y="1045" width="20" height="21" fill="#d9f8fa"/>
<rect x="966" y="1045" width="21" height="21" fill="#b8d1e2"/>
<rect x="987" y="1045" width="40" height="21" fill="#90a3c6"/>
<rect x="1027" y="1045" width="20" height="21" fill="#b3e0cc"/>
<rect x="1047" y="1045" width="61" height="21" fill="#d9f8fa"/>
<rect x="1108" y="1045" width="20" height="21" fill="#b8d1e2"/>
<rect x="1128" y="1045" width="20" height="21" fill="#d9f8fa"/>
<rect x="1148" y="1045" width="21" height="21" fill="#caf0e5"/>
<rect x="1169" y="1045" width="20" height="21" fill="#b3e0cc"/>
<rect x="1189" y="1045" width="20" height="21" fill="#a4bad4"/>
<rect x="1209" y="1045" width="40" height="21" fill="#cce8f1"/>
<rect x="1249" y="1045" width="41" height="21" fill="#b8d1e2"/>
<rect x="1290" y="1045" width="40" height="21" fill="#7c8cb8"/>
<rect x="1330" y="1045" width="21" height="21" fill="#6975a9"/>
<rect x="1351" y="1045" width="20" height="21" fill="#41478d"/>
<rect x="643" y="1066" width="20" height="20" fill="#2d307e"/>
<rect x="663" y="1066" width="20" height="20" fill="#b3e0cc"/>
<rect x="683" y="1066" width="20" height="20" fill="#d9f8fa"/>
<rect x="703" y="1066" width="41" height="20" fill="#b8d1e2"/>
<rect x="744" y="1066" width="20" height="20" fill="#7c8cb8"/>
<rect x="764" y="1066" width="20" height="20" fill="#b8d1e2"/>
<rect x="784" y="1066" width="41" height="20" fill="#d9f8fa"/>
<rect x="825" y="1066" width="20" height="20" fill="#90a3c6"/>
<rect x="845" y="1066" width="20" height="20" fill="#43924c"/>
<rect x="865" y="1066" width="20" height="20" fill="#b3e0cc"/>
<rect x="885" y="1066" width="21" height="20" fill="#d9f8fa"/>
<rect x="906" y="1066" width="20" height="20" fill="#caf0e5"/>
<rect x="926" y="1066" width="61" height="20" fill="#b8d1e2"/>
<rect x="987" y="1066" width="40" height="20" fill="#d9f8fa"/>
<rect x="1027" y="1066" width="40" height="20" fill="#006400"/>
<rect x="1067" y="1066" width="21" height="20" fill="#86c199"/>
<rect x="1108" y="1066" width="20" height="20" fill="#b3e0cc"/>
<rect x="1128" y="1066" width="20" height="20" fill="#a4bad4"/>
<rect x="1148" y="1066" width="21" height="20" fill="#d9f8fa"/>
<rect x="1169" y="1066" width="20" height="20" fill="#cce8f1"/>
<rect x="1189" y="1066" width="20" height="20" fill="#90a3c6"/>
<rect x="1209" y="1066" width="20" height="20" fill="#cce8f1"/>
<rect x="1229" y="1066" width="20" height="20" fill="#70b280"/>
<rect x="1249" y="1066" width="21" height="20" fill="#caf0e5"/>
<rect x="1290" y="1066" width="20" height="20" fill="#191970"/>
<rect x="643" y="1086" width="20" height="21" fill="#caf0e5"/>
<rect x="683" y="1086" width="20" height="21" fill="#d9f8fa"/>
<rect x="703" y="1086" width="21" height="21" fill="#9dd0b2"/>
<rect x="724" y="1086" width="20" height="21" fill="#90a3c6"/>
<rect x="744" y="1086" width="40" height="21" fill="#d9f8fa"/>
<rect x="784" y="1086" width="41" height="21" fill="#2d8333"/>
<rect x="825" y="1086" width="20" height="21" fill="#70b280"/>
<rect x="845" y="1086" width="20" height="21" fill="#5aa266"/>
<rect x="865" y="1086" width="20" height="21" fill="#b3e0cc"/>
<rect x="885" y="1086" width="21" height="21" fill="#5aa266"/>
<rect x="906" y="1086" width="40" height="21" fill="#b3e0cc"/>
<rect x="946" y="1086" width="41" height="21" fill="#d9f8fa"/>
<rect x="987" y="1086" width="40" height="21" fill="#b3e0cc"/>
<rect x="1027" y="1086" width="20" height="21" fill="#2d307e"/>
<rect x="1047" y="1086" width="20" height="21" fill="#caf0e5"/>
<rect x="1067" y="1086" width="21" height="21" fill="#a4bad4"/>
<rect x="1088" y="1086" width="20" height="21" fill="#b3e0cc"/>
<rect x="1108" y="1086" width="40" height="21" fill="#d9f8fa"/>
<rect x="1148" y="1086" width="61" height="21" fill="#b8d1e2"/>
<rect x="1209" y="1086" width="20" height="21" fill="#cce8f1"/>
<rect x="1229" y="1086" width="20" height="21" fill="#191970"/>
<rect x="1249" y="1086" width="21" height="21" fill="#b8d1e2"/>
<rect x="703" y="1107" width="21" height="20" fill="#6975a9"/>
<rect x="724" y="1107" width="40" height="20" fill="#d9f8fa"/>
<rect x="764" y="1107" width="20" height="20" fill="#b8d1e2"/>
<rect x="784" y="1107" width="21" height="20" fill="#6975a9"/>
<rect x="805" y="1107" width="20" height="20" fill="#d9f8fa"/>
<rect x="825" y="1107" width="40" height="20" fill="#b3e0cc"/>
<rect x="865" y="1107" width="20" height="20" fill="#caf0e5"/>
<rect x="885" y="1107" width="21" height="20" fill="#d9f8fa"/>
<rect x="906" y="1107" width="20" height="20" fill="#b3e0cc"/>
<rect x="926" y="1107" width="20" height="20" fill="#b8d1e2"/>
<rect x="946" y="1107" width="20" height="20" fill="#caf0e5"/>
<rect x="966" y="1107" width="41" height="20" fill="#b3e0cc"/>
<rect x="1007" y="1107" width="20" height="20" fill="#b8d1e2"/>
<rect x="1027" y="1107" width="20" height="20" fill="#d9f8fa"/>
<rect x="1067" y="1107" width="21" height="20" fill="#b8d1e2"/>
<rect x="1088" y="1107" width="20" height="20" fill="#cce8f1"/>
<rect x="1108" y="1107" width="20" height="20" fill="#a4bad4"/>
<rect x="1128" y="1107" width="20" height="20" fill="#b8d1e2"/>
<rect x="1169" y="1107" width="40" height="20" fill="#d9f8fa"/>
<rect x="1249" y="1107" width="21" height="20" fill="#191970"/>
<rect x="643" y="1127" width="20" height="21" fill="#6975a9"/>
<rect x="703" y="1127" width="21" height="21" fill="#555e9b"/>
<rect x="724" y="1127" width="20" height="21" fill="#006400"/>
<rect x="764" y="1127" width="20" height="21" fill="#6975a9"/>
<rect x="784" y="1127" width="21" height="21" fill="#86c199"/>
<rect x="805" y="1127" width="20" height="21" fill="#b8d1e2"/>
<rect x="825" y="1127" width="20" height="21" fill="#a4bad4"/>
<rect x="845" y="1127" width="20" height="21" fill="#b3e0cc"/>
<rect x="865" y="1127" width="20" height="21" fill="#cce8f1"/>
<rect x="885" y="1127" width="81" height="21" fill="#b8d1e2"/>
<rect x="966" y="1127" width="21" height="21" fill="#b3e0cc"/>
<rect x="987" y="1127" width="20" height="21" fill="#90a3c6"/>
<rect x="1007" y="1127" width="20" height="21" fill="#b8d1e2"/>
<rect x="1027" y="1127" width="20" height="21" fill="#90a3c6"/>
<rect x="1067" y="1127" width="21" height="21" fill="#b8d1e2"/>
<rect x="1088" y="1127" width="20" height="21" fill="#70b280"/>
<rect x="1108" y="1127" width="20" height="21" fill="#90a3c6"/>
<rect x="1128" y="1127" width="20" height="21" fill="#b8d1e2"/>
<rect x="1169" y="1127" width="20" height="21" fill="#caf0e5"/>
<rect x="1189" y="1127" width="20" height="21" fill="#b3e0cc"/>
<rect x="1209" y="1127" width="20" height="21" fill="#86c199"/>
<rect x="1229" y="1127" width="20" height="21" fill="#90a3c6"/>
<rect x="1249" y="1127" width="21" height="21" fill="#191970"/>
<rect x="744" y="1148" width="20" height="20" fill="#006400"/>
<rect x="764" y="1148" width="20" height="20" fill="#2d8333"/>
<rect x="784" y="1148" width="21" height="20" fill="#86c199"/>
<rect x="805" y="1148" width="20" height="20" fill="#006400"/>
<rect x="825" y="1148" width="20" height="20" fill="#7c8cb8"/>
<rect x="845" y="1148" width="40" height="20" fill="#d9f8fa"/>
<rect x="885" y="1148" width="21" height="20" fill="#86c199"/>
<rect x="906" y="1148" width="40" height="20" fill="#a4bad4"/>
<rect x="946" y="1148" width="20" height="20" fill="#d9f8fa"/>
<rect x="966" y="1148" width="21" height="20" fill="#b8d1e2"/>
<rect x="987" y="1148" width="20" height="20" fill="#d9f8fa"/>
<rect x="1007" y="1148" width="20" height="20" fill="#b8d1e2"/>
<rect x="1027" y="1148" width="20" height="20" fill="#d9f8fa"/>
<rect x="1047" y="1148" width="20" height="20" fill="#6975a9"/>
<rect x="1067" y="1148" width="21" height="20" fill="#cce8f1"/>
<rect x="1088" y="1148" width="20" height="20" fill="#90a3c6"/>
<rect x="1108" y="1148" width="20" height="20" fill="#d9f8fa"/>
<rect x="1128" y="1148" width="20" height="20" fill="#b8d1e2"/>
<rect x="1148" y="1148" width="21" height="20" fill="#7c8cb8"/>
<rect x="1169" y="1148" width="20" height="20" fill="#90a3c6"/>
<rect x="1189" y="1148" width="20" height="20" fill="#6975a9"/>
<rect x="784" y="1168" width="21" height="21" fill="#006400"/>
<rect x="805" y="1168" width="20" height="21" fill="#7c8cb8"/>
<rect x="845" y="1168" width="20" height="21" fill="#006400"/>
<rect x="885" y="1168" width="21" height="21" fill="#006400"/>
<rect x="906" y="1168" width="20" height="21" fill="#6975a9"/>
<rect x="926" y="1168" width="20" height="21" fill="#a4bad4"/>
<rect x="946" y="1168" width="20" height="21" fill="#b8d1e2"/>
<rect x="966" y="1168" width="41" height="21" fill="#a4bad4"/>
<rect x="1007" y="1168" width="20" height="21" fill="#b8d1e2"/>
<rect x="1027" y="1168" width="20" height="21" fill="#191970"/>
<rect x="1047" y="1168" width="20" height="21" fill="#d9f8fa"/>
<rect x="1128" y="1168" width="20" height="21" fill="#b8d1e2"/>
</g>
<g stroke="#fff" stroke-width="1.2">
<circle cx="778.6" cy="339.0" r="5.0" fill="#191970"/>
<circle cx="773.3" cy="386.5" r="5.0" fill="#191970"/>
<circle cx="723.4" cy="404.3" r="5.0" fill="#006400"/>
<circle cx="749.1" cy="403.8" r="5.0" fill="#006400"/>
<circle cx="767.8" cy="408.9" r="5.0" fill="#191970"/>
<circle cx="668.8" cy="410.8" r="5.0" fill="#006400"/>
<circle cx="705.4" cy="408.1" r="5.0" fill="#191970"/>
<circle cx="696.3" cy="415.3" r="5.0" fill="#191970"/>
<circle cx="705.4" cy="418.4" r="5.0" fill="#191970"/>
<circle cx="604.5" cy="418.0" r="5.0" fill="#191970"/>
<circle cx="688.2" cy="425.2" r="5.0" fill="#191970"/>
<circle cx="687.2" cy="429.0" r="5.0" fill="#191970"/>
<circle cx="683.9" cy="435.2" r="5.0" fill="#191970"/>
<circle cx="720.3" cy="432.4" r="5.0" fill="#006400"/>
<circle cx="734.0" cy="433.5" r="5.0" fill="#191970"/>
<circle cx="629.5" cy="434.2" r="5.0" fill="#006400"/>
<circle cx="664.2" cy="435.0" r="5.0" fill="#006400"/>
<circle cx="675.0" cy="444.6" r="5.0" fill="#191970"/>
<circle cx="632.8" cy="451.0" r="5.0" fill="#006400"/>
<circle cx="658.2" cy="457.5" r="5.0" fill="#006400"/>
<circle cx="752.4" cy="456.3" r="5.0" fill="#191970"/>
<circle cx="643.6" cy="466.6" r="5.0" fill="#191970"/>
<circle cx="665.4" cy="466.1" r="5.0" fill="#191970"/>
<circle cx="692.8" cy="465.7" r="5.0" fill="#191970"/>
<circle cx="720.1" cy="464.3" r="5.0" fill="#191970"/>
<circle cx="771.4" cy="475.3" r="5.0" fill="#191970"/>
<circle cx="599.0" cy="486.5" r="5.0" fill="#191970"/>
<circle cx="606.6" cy="488.9" r="5.0" fill="#006400"/>
<circle cx="772.6" cy="488.2" r="5.0" fill="#006400"/>
<circle cx="749.4" cy="495.9" r="5.0" fill="#006400"/>
<circle cx="752.4" cy="502.8" r="5.0" fill="#006400"/>
<circle cx="772.1" cy="505.9" r="5.0" fill="#006400"/>
<circle cx="587.3" cy="503.8" r="5.0" fill="#191970"/>
<circle cx="627.0" cy="502.9" r="5.0" fill="#191970"/>
<circle cx="712.6" cy="504.5" r="5.0" fill="#006400"/>
<circle cx="835.5" cy="272.6" r="5.0" fill="#2d307e"/>
<circle cx="904.4" cy="273.4" r="5.0" fill="#191970"/>
<circle cx="1020.1" cy="322.7" r="5.0" fill="#191970"/>
<circle cx="1076.3" cy="326.1" r="5.0" fill="#191970"/>
<circle cx="854.0" cy="327.6" r="5.0" fill="#191970"/>
<circle cx="831.9" cy="333.0" r="5.0" fill="#191970"/>
<circle cx="881.4" cy="339.0" r="5.0" fill="#006400"/>
<circle cx="924.3" cy="336.2" r="5.0" fill="#191970"/>
<circle cx="967.7" cy="334.5" r="5.0" fill="#191970"/>
<circle cx="979.9" cy="333.8" r="5.0" fill="#191970"/>
<circle cx="987.3" cy="340.0" r="5.0" fill="#191970"/>
<circle cx="1021.8" cy="347.9" r="5.0" fill="#191970"/>
<circle cx="901.3" cy="353.0" r="5.0" fill="#006400"/>
<circle cx="1060.0" cy="352.0" r="5.0" fill="#191970"/>
<circle cx="918.7" cy="360.8" r="5.0" fill="#006400"/>
<circle cx="987.6" cy="366.6" r="5.0" fill="#16741a"/>
<circle cx="983.0" cy="370.7" r="5.0" fill="#191970"/>
<circle cx="1023.7" cy="365.0" r="5.0" fill="#006400"/>
<circle cx="878.4" cy="368.8" r="5.0" fill="#191970"/>
<circle cx="944.9" cy="370.7" r="5.0" fill="#191970"/>
<circle cx="900.3" cy="375.5" r="5.0" fill="#2d307e"/>
<circle cx="1031.0" cy="370.7" r="5.0" fill="#006400"/>
<circle cx="1031.6" cy="376.4" r="5.0" fill="#006400"/>
<circle cx="1077.0" cy="373.5" r="5.0" fill="#006400"/>
<circle cx="867.2" cy="384.9" r="5.0" fill="#191970"/>
<circle cx="1009.3" cy="385.5" r="5.0" fill="#006400"/>
<circle cx="1014.7" cy="383.2" r="5.0" fill="#006400"/>
<circle cx="1021.6" cy="385.8" r="5.0" fill="#006400"/>
<circle cx="1033.6" cy="384.1" r="5.0" fill="#006400"/>
<circle cx="1039.6" cy="387.2" r="5.0" fill="#006400"/>
<circle cx="895.5" cy="392.7" r="5.0" fill="#191970"/>
<circle cx="888.5" cy="395.4" r="5.0" fill="#191970"/>
<circle cx="901.9" cy="402.1" r="5.0" fill="#191970"/>
<circle cx="907.9" cy="403.3" r="5.0" fill="#191970"/>
<circle cx="945.6" cy="400.0" r="5.0" fill="#006400"/>
<circle cx="970.5" cy="400.7" r="5.0" fill="#191970"/>
<circle cx="1015.6" cy="397.8" r="5.0" fill="#006400"/>
<circle cx="1022.1" cy="397.5" r="5.0" fill="#006400"/>
<circle cx="1035.7" cy="401.6" r="5.0" fill="#006400"/>
<circle cx="1057.8" cy="395.4" r="5.0" fill="#006400"/>
<circle cx="1061.4" cy="403.3" r="5.0" fill="#191970"/>
<circle cx="931.2" cy="410.2" r="5.0" fill="#191970"/>
<circle cx="924.7" cy="412.7" r="5.0" fill="#006400"/>
<circle cx="920.0" cy="417.9" r="5.0" fill="#006400"/>
<circle cx="914.7" cy="419.8" r="5.0" fill="#191970"/>
<circle cx="891.4" cy="416.9" r="5.0" fill="#191970"/>
<circle cx="1021.6" cy="415.3" r="5.0" fill="#006400"/>
<circle cx="831.0" cy="424.9" r="5.0" fill="#191970"/>
<circle cx="1047.0" cy="423.5" r="5.0" fill="#006400"/>
<circle cx="1043.0" cy="427.1" r="5.0" fill="#191970"/>
<circle cx="864.6" cy="430.4" r="5.0" fill="#191970"/>
<circle cx="948.2" cy="429.9" r="5.0" fill="#191970"/>
<circle cx="990.6" cy="431.1" r="5.0" fill="#191970"/>
<circle cx="887.1" cy="437.1" r="5.0" fill="#006400"/>
<circle cx="942.7" cy="438.1" r="5.0" fill="#16741a"/>
<circle cx="952.3" cy="437.8" r="5.0" fill="#006400"/>
<circle cx="821.2" cy="450.5" r="5.0" fill="#006400"/>
<circle cx="851.2" cy="455.3" r="5.0" fill="#191970"/>
<circle cx="895.7" cy="453.6" r="5.0" fill="#006400"/>
<circle cx="895.7" cy="459.6" r="5.0" fill="#16741a"/>
<circle cx="933.3" cy="459.4" r="5.0" fill="#191970"/>
<circle cx="1050.8" cy="453.2" r="5.0" fill="#191970"/>
<circle cx="1047.5" cy="453.6" r="5.0" fill="#191970"/>
<circle cx="944.4" cy="470.4" r="5.0" fill="#191970"/>
<circle cx="857.4" cy="470.9" r="5.0" fill="#191970"/>
<circle cx="825.3" cy="474.5" r="5.0" fill="#191970"/>
<circle cx="1006.5" cy="469.2" r="5.0" fill="#191970"/>
<circle cx="941.3" cy="482.2" r="5.0" fill="#006400"/>
<circle cx="938.9" cy="491.0" r="5.0" fill="#006400"/>
<circle cx="955.0" cy="489.1" r="5.0" fill="#006400"/>
<circle cx="952.5" cy="495.1" r="5.0" fill="#006400"/>
<circle cx="997.6" cy="489.6" r="5.0" fill="#191970"/>
<circle cx="994.2" cy="491.3" r="5.0" fill="#191970"/>
<circle cx="1028.3" cy="485.3" r="5.0" fill="#006400"/>
<circle cx="1085.4" cy="486.5" r="5.0" fill="#191970"/>
<circle cx="1031.9" cy="494.2" r="5.0" fill="#006400"/>
<circle cx="1027.6" cy="493.0" r="5.0" fill="#006400"/>
<circle cx="1063.6" cy="494.4" r="5.0" fill="#006400"/>
<circle cx="1079.9" cy="497.0" r="5.0" fill="#2d307e"/>
<circle cx="791.2" cy="498.5" r="5.0" fill="#191970"/>
<circle cx="842.0" cy="500.7" r="5.0" fill="#006400"/>
<circle cx="840.6" cy="505.6" r="5.0" fill="#191970"/>
<circle cx="902.0" cy="505.0" r="5.0" fill="#2d307e"/>
<circle cx="962.4" cy="501.6" r="5.0" fill="#006400"/>
<circle cx="936.7" cy="505.9" r="5.0" fill="#006400"/>
<circle cx="957.3" cy="505.9" r="5.0" fill="#006400"/>
<circle cx="948.7" cy="507.6" r="5.0" fill="#006400"/>
<circle cx="1043.4" cy="505.9" r="5.0" fill="#191970"/>
<circle cx="1073.9" cy="508.5" r="5.0" fill="#2d307e"/>
<circle cx="784.9" cy="506.8" r="5.0" fill="#191970"/>
<circle cx="1192.6" cy="269.5" r="5.0" fill="#006400"/>
<circle cx="1230.4" cy="266.1" r="5.0" fill="#006400"/>
<circle cx="1162.8" cy="283.9" r="5.0" fill="#006400"/>
<circle cx="1252.7" cy="282.0" r="5.0" fill="#191970"/>
<circle cx="1139.5" cy="320.8" r="5.0" fill="#006400"/>
<circle cx="1133.6" cy="341.5" r="5.0" fill="#191970"/>
<circle cx="1332.1" cy="340.5" r="5.0" fill="#006400"/>
<circle cx="1192.0" cy="345.0" r="5.0" fill="#006400"/>
<circle cx="1189.6" cy="346.9" r="5.0" fill="#006400"/>
<circle cx="1353.1" cy="348.2" r="5.0" fill="#006400"/>
<circle cx="1338.5" cy="351.0" r="5.0" fill="#006400"/>
<circle cx="1115.4" cy="356.1" r="5.0" fill="#191970"/>
<circle cx="1350.5" cy="357.8" r="5.0" fill="#006400"/>
<circle cx="1182.7" cy="359.6" r="5.0" fill="#006400"/>
<circle cx="1189.7" cy="366.1" r="5.0" fill="#191970"/>
<circle cx="1344.3" cy="366.2" r="5.0" fill="#191970"/>
<circle cx="1103.3" cy="375.5" r="5.0" fill="#191970"/>
<circle cx="1144.3" cy="376.2" r="5.0" fill="#006400"/>
<circle cx="1183.4" cy="376.9" r="5.0" fill="#191970"/>
<circle cx="1178.1" cy="381.7" r="5.0" fill="#191970"/>
<circle cx="1215.8" cy="378.3" r="5.0" fill="#006400"/>
<circle cx="1096.2" cy="390.4" r="5.0" fill="#191970"/>
<circle cx="1094.0" cy="395.9" r="5.0" fill="#191970"/>
<circle cx="1295.8" cy="398.5" r="5.0" fill="#191970"/>
<circle cx="1181.2" cy="414.5" r="5.0" fill="#006400"/>
<circle cx="1188.0" cy="414.5" r="5.0" fill="#41478d"/>
<circle cx="1339.3" cy="417.2" r="5.0" fill="#191970"/>
<circle cx="1119.9" cy="423.7" r="5.0" fill="#191970"/>
<circle cx="1334.2" cy="426.3" r="5.0" fill="#191970"/>
<circle cx="1346.7" cy="426.1" r="5.0" fill="#191970"/>
<circle cx="1279.6" cy="433.7" r="5.0" fill="#191970"/>
<circle cx="1293.5" cy="435.7" r="5.0" fill="#006400"/>
<circle cx="1313.1" cy="435.7" r="5.0" fill="#191970"/>
<circle cx="1288.4" cy="442.9" r="5.0" fill="#191970"/>
<circle cx="1296.1" cy="441.6" r="5.0" fill="#006400"/>
<circle cx="1297.6" cy="444.1" r="5.0" fill="#191970"/>
<circle cx="1309.0" cy="448.6" r="5.0" fill="#006400"/>
<circle cx="1220.3" cy="452.2" r="5.0" fill="#006400"/>
<circle cx="1278.8" cy="460.9" r="5.0" fill="#006400"/>
<circle cx="1222.7" cy="462.5" r="5.0" fill="#006400"/>
<circle cx="1210.3" cy="465.6" r="5.0" fill="#006400"/>
<circle cx="1221.0" cy="465.1" r="5.0" fill="#006400"/>
<circle cx="1229.5" cy="466.4" r="5.0" fill="#006400"/>
<circle cx="1235.2" cy="467.3" r="5.0" fill="#006400"/>
<circle cx="1320.8" cy="465.4" r="5.0" fill="#191970"/>
<circle cx="1317.4" cy="466.8" r="5.0" fill="#191970"/>
<circle cx="1201.6" cy="470.9" r="5.0" fill="#006400"/>
<circle cx="1148.9" cy="476.4" r="5.0" fill="#006400"/>
<circle cx="1135.2" cy="483.9" r="5.0" fill="#006400"/>
<circle cx="1271.6" cy="485.0" r="5.0" fill="#191970"/>
<circle cx="1267.8" cy="486.5" r="5.0" fill="#191970"/>
<circle cx="1353.9" cy="485.3" r="5.0" fill="#16741a"/>
<circle cx="1251.3" cy="491.3" r="5.0" fill="#191970"/>
<circle cx="1375.4" cy="491.8" r="5.0" fill="#006400"/>
<circle cx="1357.9" cy="495.1" r="5.0" fill="#006400"/>
<circle cx="1367.6" cy="501.3" r="5.0" fill="#006400"/>
<circle cx="1384.4" cy="504.2" r="5.0" fill="#006400"/>
<circle cx="1116.3" cy="505.0" r="5.0" fill="#191970"/>
<circle cx="1143.8" cy="505.0" r="5.0" fill="#191970"/>
<circle cx="1131.4" cy="506.8" r="5.0" fill="#006400"/>
<circle cx="1125.7" cy="506.8" r="5.0" fill="#006400"/>
<circle cx="1161.4" cy="503.0" r="5.0" fill="#006400"/>
<circle cx="1174.6" cy="504.2" r="5.0" fill="#006400"/>
<circle cx="1174.6" cy="506.8" r="5.0" fill="#006400"/>
<circle cx="1158.3" cy="508.5" r="5.0" fill="#006400"/>
<circle cx="1301.6" cy="505.6" r="5.0" fill="#006400"/>
<circle cx="1305.9" cy="508.5" r="5.0" fill="#006400"/>
<circle cx="1362.5" cy="507.6" r="5.0" fill="#006400"/>
<circle cx="1379.6" cy="508.5" r="5.0" fill="#006400"/>
<circle cx="620.3" cy="508.9" r="5.0" fill="#191970"/>
<circle cx="664.5" cy="509.6" r="5.0" fill="#191970"/>
<circle cx="760.2" cy="510.1" r="5.0" fill="#006400"/>
<circle cx="764.0" cy="521.6" r="5.0" fill="#2d307e"/>
<circle cx="718.6" cy="530.9" r="5.0" fill="#006400"/>
<circle cx="765.7" cy="533.6" r="5.0" fill="#191970"/>
<circle cx="718.4" cy="543.9" r="5.0" fill="#41478d"/>
<circle cx="728.0" cy="545.3" r="5.0" fill="#006400"/>
<circle cx="737.8" cy="552.7" r="5.0" fill="#006400"/>
<circle cx="730.1" cy="553.2" r="5.0" fill="#006400"/>
<circle cx="765.7" cy="548.0" r="5.0" fill="#006400"/>
<circle cx="620.3" cy="548.0" r="5.0" fill="#191970"/>
<circle cx="612.4" cy="561.9" r="5.0" fill="#006400"/>
<circle cx="687.7" cy="577.9" r="5.0" fill="#2d307e"/>
<circle cx="679.1" cy="580.5" r="5.0" fill="#006400"/>
<circle cx="742.2" cy="580.5" r="5.0" fill="#191970"/>
<circle cx="754.6" cy="578.8" r="5.0" fill="#191970"/>
<circle cx="538.1" cy="587.5" r="5.0" fill="#191970"/>
<circle cx="576.0" cy="585.3" r="5.0" fill="#191970"/>
<circle cx="588.0" cy="585.8" r="5.0" fill="#191970"/>
<circle cx="773.5" cy="588.7" r="5.0" fill="#191970"/>
<circle cx="620.3" cy="588.7" r="5.0" fill="#006400"/>
<circle cx="582.4" cy="593.7" r="5.0" fill="#191970"/>
<circle cx="598.3" cy="595.6" r="5.0" fill="#006400"/>
<circle cx="614.4" cy="595.4" r="5.0" fill="#006400"/>
<circle cx="730.2" cy="596.4" r="5.0" fill="#191970"/>
<circle cx="736.6" cy="595.6" r="5.0" fill="#191970"/>
<circle cx="551.5" cy="598.7" r="5.0" fill="#006400"/>
<circle cx="673.1" cy="599.7" r="5.0" fill="#006400"/>
<circle cx="630.7" cy="602.8" r="5.0" fill="#006400"/>
<circle cx="631.9" cy="604.5" r="5.0" fill="#006400"/>
<circle cx="542.1" cy="609.6" r="5.0" fill="#191970"/>
<circle cx="620.3" cy="613.1" r="5.0" fill="#006400"/>
<circle cx="625.9" cy="614.4" r="5.0" fill="#191970"/>
<circle cx="573.6" cy="614.9" r="5.0" fill="#191970"/>
<circle cx="602.1" cy="617.5" r="5.0" fill="#191970"/>
<circle cx="639.5" cy="621.6" r="5.0" fill="#191970"/>
<circle cx="748.6" cy="619.4" r="5.0" fill="#006400"/>
<circle cx="749.4" cy="629.4" r="5.0" fill="#006400"/>
<circle cx="516.5" cy="631.1" r="5.0" fill="#191970"/>
<circle cx="628.0" cy="631.6" r="5.0" fill="#2d307e"/>
<circle cx="680.0" cy="638.8" r="5.0" fill="#006400"/>
<circle cx="608.3" cy="646.2" r="5.0" fill="#191970"/>
<circle cx="632.3" cy="644.4" r="5.0" fill="#191970"/>
<circle cx="687.3" cy="647.7" r="5.0" fill="#006400"/>
<circle cx="697.1" cy="648.6" r="5.0" fill="#006400"/>
<circle cx="668.8" cy="651.3" r="5.0" fill="#006400"/>
<circle cx="676.5" cy="651.7" r="5.0" fill="#006400"/>
<circle cx="529.0" cy="652.2" r="5.0" fill="#191970"/>
<circle cx="634.2" cy="652.7" r="5.0" fill="#191970"/>
<circle cx="482.4" cy="648.6" r="5.0" fill="#006400"/>
<circle cx="779.5" cy="661.9" r="5.0" fill="#006400"/>
<circle cx="618.6" cy="666.6" r="5.0" fill="#191970"/>
<circle cx="554.9" cy="668.8" r="5.0" fill="#2d307e"/>
<circle cx="758.5" cy="669.0" r="5.0" fill="#006400"/>
<circle cx="757.2" cy="672.2" r="5.0" fill="#006400"/>
<circle cx="764.0" cy="673.1" r="5.0" fill="#006400"/>
<circle cx="774.3" cy="673.1" r="5.0" fill="#006400"/>
<circle cx="779.5" cy="675.7" r="5.0" fill="#006400"/>
<circle cx="536.2" cy="680.0" r="5.0" fill="#006400"/>
<circle cx="678.3" cy="684.4" r="5.0" fill="#191970"/>
<circle cx="555.3" cy="686.0" r="5.0" fill="#006400"/>
<circle cx="560.8" cy="691.4" r="5.0" fill="#006400"/>
<circle cx="755.4" cy="681.7" r="5.0" fill="#006400"/>
<circle cx="767.8" cy="680.8" r="5.0" fill="#006400"/>
<circle cx="748.9" cy="685.6" r="5.0" fill="#191970"/>
<circle cx="763.2" cy="682.5" r="5.0" fill="#006400"/>
<circle cx="777.4" cy="685.1" r="5.0" fill="#006400"/>
<circle cx="782.9" cy="678.2" r="5.0" fill="#006400"/>
<circle cx="527.7" cy="699.7" r="5.0" fill="#2d307e"/>
<circle cx="591.5" cy="703.1" r="5.0" fill="#191970"/>
<circle cx="767.4" cy="700.9" r="5.0" fill="#191970"/>
<circle cx="763.7" cy="704.5" r="5.0" fill="#006400"/>
<circle cx="728.7" cy="704.5" r="5.0" fill="#006400"/>
<circle cx="717.7" cy="714.3" r="5.0" fill="#006400"/>
<circle cx="731.4" cy="714.6" r="5.0" fill="#006400"/>
<circle cx="710.5" cy="716.3" r="5.0" fill="#191970"/>
<circle cx="658.5" cy="717.3" r="5.0" fill="#191970"/>
<circle cx="665.9" cy="719.1" r="5.0" fill="#191970"/>
<circle cx="645.0" cy="720.4" r="5.0" fill="#191970"/>
<circle cx="729.7" cy="720.6" r="5.0" fill="#191970"/>
<circle cx="597.6" cy="727.1" r="5.0" fill="#191970"/>
<circle cx="612.0" cy="727.8" r="5.0" fill="#191970"/>
<circle cx="775.7" cy="728.0" r="5.0" fill="#006400"/>
<circle cx="680.3" cy="734.0" r="5.0" fill="#2d307e"/>
<circle cx="642.2" cy="736.6" r="5.0" fill="#191970"/>
<circle cx="731.4" cy="736.6" r="5.0" fill="#191970"/>
<circle cx="678.6" cy="741.2" r="5.0" fill="#191970"/>
<circle cx="688.0" cy="744.6" r="5.0" fill="#006400"/>
<circle cx="577.1" cy="741.7" r="5.0" fill="#006400"/>
<circle cx="587.7" cy="742.6" r="5.0" fill="#006400"/>
<circle cx="565.4" cy="747.2" r="5.0" fill="#006400"/>
<circle cx="565.0" cy="752.0" r="5.0" fill="#006400"/>
<circle cx="559.9" cy="756.3" r="5.0" fill="#006400"/>
<circle cx="577.1" cy="756.3" r="5.0" fill="#006400"/>
<circle cx="661.1" cy="754.6" r="5.0" fill="#191970"/>
<circle cx="815.7" cy="516.1" r="5.0" fill="#006400"/>
<circle cx="812.3" cy="518.7" r="5.0" fill="#006400"/>
<circle cx="826.0" cy="518.7" r="5.0" fill="#191970"/>
<circle cx="842.8" cy="529.9" r="5.0" fill="#006400"/>
<circle cx="889.5" cy="529.9" r="5.0" fill="#191970"/>
<circle cx="958.0" cy="519.2" r="5.0" fill="#006400"/>
<circle cx="968.1" cy="532.3" r="5.0" fill="#2d307e"/>
<circle cx="1040.3" cy="518.2" r="5.0" fill="#191970"/>
<circle cx="1087.3" cy="514.8" r="5.0" fill="#191970"/>
<circle cx="1062.6" cy="528.2" r="5.0" fill="#191970"/>
<circle cx="1019.4" cy="529.9" r="5.0" fill="#191970"/>
<circle cx="1015.3" cy="534.2" r="5.0" fill="#006400"/>
<circle cx="1029.3" cy="532.4" r="5.0" fill="#191970"/>
<circle cx="1045.6" cy="535.0" r="5.0" fill="#191970"/>
<circle cx="1082.2" cy="533.3" r="5.0" fill="#191970"/>
<circle cx="1070.5" cy="539.8" r="5.0" fill="#006400"/>
<circle cx="859.1" cy="537.9" r="5.0" fill="#191970"/>
<circle cx="863.3" cy="537.6" r="5.0" fill="#006400"/>
<circle cx="790.0" cy="547.9" r="5.0" fill="#006400"/>
<circle cx="852.3" cy="549.1" r="5.0" fill="#191970"/>
<circle cx="868.4" cy="548.2" r="5.0" fill="#191970"/>
<circle cx="898.1" cy="547.4" r="5.0" fill="#006400"/>
<circle cx="1052.5" cy="551.8" r="5.0" fill="#2d307e"/>
<circle cx="938.7" cy="552.7" r="5.0" fill="#191970"/>
<circle cx="963.4" cy="554.4" r="5.0" fill="#191970"/>
<circle cx="891.6" cy="559.2" r="5.0" fill="#191970"/>
<circle cx="877.8" cy="564.5" r="5.0" fill="#191970"/>
<circle cx="805.8" cy="566.9" r="5.0" fill="#191970"/>
<circle cx="826.5" cy="568.0" r="5.0" fill="#191970"/>
<circle cx="1012.5" cy="564.5" r="5.0" fill="#191970"/>
<circle cx="1042.5" cy="562.5" r="5.0" fill="#006400"/>
<circle cx="959.0" cy="570.2" r="5.0" fill="#006400"/>
<circle cx="953.8" cy="571.4" r="5.0" fill="#191970"/>
<circle cx="866.0" cy="571.4" r="5.0" fill="#191970"/>
<circle cx="851.9" cy="572.9" r="5.0" fill="#191970"/>
<circle cx="1009.3" cy="572.2" r="5.0" fill="#006400"/>
<circle cx="994.2" cy="575.8" r="5.0" fill="#006400"/>
<circle cx="914.9" cy="577.9" r="5.0" fill="#006400"/>
<circle cx="891.6" cy="578.8" r="5.0" fill="#191970"/>
<circle cx="1052.5" cy="578.9" r="5.0" fill="#191970"/>
<circle cx="1084.2" cy="578.4" r="5.0" fill="#191970"/>
<circle cx="917.8" cy="587.3" r="5.0" fill="#191970"/>
<circle cx="996.7" cy="589.1" r="5.0" fill="#191970"/>
<circle cx="857.3" cy="590.9" r="5.0" fill="#006400"/>
<circle cx="876.1" cy="590.8" r="5.0" fill="#006400"/>
<circle cx="1021.3" cy="591.3" r="5.0" fill="#191970"/>
<circle cx="1028.5" cy="593.0" r="5.0" fill="#191970"/>
<circle cx="840.3" cy="594.9" r="5.0" fill="#006400"/>
<circle cx="895.5" cy="594.9" r="5.0" fill="#191970"/>
<circle cx="989.9" cy="595.6" r="5.0" fill="#006400"/>
<circle cx="999.8" cy="595.6" r="5.0" fill="#006400"/>
<circle cx="812.3" cy="598.7" r="5.0" fill="#191970"/>
<circle cx="873.6" cy="598.7" r="5.0" fill="#191970"/>
<circle cx="884.4" cy="599.9" r="5.0" fill="#191970"/>
<circle cx="1026.8" cy="599.9" r="5.0" fill="#006400"/>
<circle cx="1032.4" cy="601.4" r="5.0" fill="#191970"/>
<circle cx="1062.8" cy="603.3" r="5.0" fill="#006400"/>
<circle cx="925.2" cy="605.4" r="5.0" fill="#191970"/>
<circle cx="998.4" cy="610.2" r="5.0" fill="#006400"/>
<circle cx="1073.6" cy="612.4" r="5.0" fill="#191970"/>
<circle cx="870.6" cy="614.8" r="5.0" fill="#191970"/>
<circle cx="798.6" cy="616.5" r="5.0" fill="#191970"/>
<circle cx="806.0" cy="614.8" r="5.0" fill="#006400"/>
<circle cx="832.2" cy="616.5" r="5.0" fill="#006400"/>
<circle cx="971.0" cy="614.4" r="5.0" fill="#006400"/>
<circle cx="979.1" cy="619.4" r="5.0" fill="#006400"/>
<circle cx="937.2" cy="620.1" r="5.0" fill="#006400"/>
<circle cx="1049.1" cy="624.4" r="5.0" fill="#006400"/>
<circle cx="1001.4" cy="625.9" r="5.0" fill="#191970"/>
<circle cx="841.1" cy="629.7" r="5.0" fill="#006400"/>
<circle cx="802.9" cy="633.5" r="5.0" fill="#006400"/>
<circle cx="947.0" cy="636.1" r="5.0" fill="#006400"/>
<circle cx="1081.1" cy="636.2" r="5.0" fill="#006400"/>
<circle cx="1069.6" cy="638.8" r="5.0" fill="#006400"/>
<circle cx="856.9" cy="645.2" r="5.0" fill="#006400"/>
<circle cx="867.0" cy="646.2" r="5.0" fill="#006400"/>
<circle cx="869.8" cy="649.1" r="5.0" fill="#006400"/>
<circle cx="915.2" cy="645.2" r="5.0" fill="#006400"/>
<circle cx="959.3" cy="646.0" r="5.0" fill="#006400"/>
<circle cx="1067.1" cy="646.5" r="5.0" fill="#006400"/>
<circle cx="1073.9" cy="646.5" r="5.0" fill="#006400"/>
<circle cx="799.1" cy="649.3" r="5.0" fill="#006400"/>
<circle cx="842.3" cy="652.4" r="5.0" fill="#191970"/>
<circle cx="1045.3" cy="652.5" r="5.0" fill="#006400"/>
<circle cx="1048.2" cy="650.3" r="5.0" fill="#006400"/>
<circle cx="1012.5" cy="653.7" r="5.0" fill="#006400"/>
<circle cx="1073.9" cy="652.5" r="5.0" fill="#006400"/>
<circle cx="902.2" cy="656.3" r="5.0" fill="#191970"/>
<circle cx="865.8" cy="657.2" r="5.0" fill="#191970"/>
<circle cx="1002.7" cy="657.2" r="5.0" fill="#006400"/>
<circle cx="1064.0" cy="658.2" r="5.0" fill="#006400"/>
<circle cx="806.3" cy="658.5" r="5.0" fill="#006400"/>
<circle cx="813.2" cy="658.5" r="5.0" fill="#006400"/>
<circle cx="786.6" cy="659.4" r="5.0" fill="#006400"/>
<circle cx="975.8" cy="660.8" r="5.0" fill="#006400"/>
<circle cx="1037.2" cy="662.8" r="5.0" fill="#191970"/>
<circle cx="916.1" cy="664.5" r="5.0" fill="#191970"/>
<circle cx="1028.5" cy="665.4" r="5.0" fill="#006400"/>
<circle cx="1004.8" cy="666.3" r="5.0" fill="#191970"/>
<circle cx="795.2" cy="667.1" r="5.0" fill="#006400"/>
<circle cx="808.9" cy="668.8" r="5.0" fill="#006400"/>
<circle cx="979.6" cy="666.3" r="5.0" fill="#191970"/>
<circle cx="1035.8" cy="668.8" r="5.0" fill="#006400"/>
<circle cx="835.5" cy="671.4" r="5.0" fill="#006400"/>
<circle cx="977.0" cy="672.3" r="5.0" fill="#191970"/>
<circle cx="896.7" cy="674.0" r="5.0" fill="#191970"/>
<circle cx="1084.2" cy="671.9" r="5.0" fill="#006400"/>
<circle cx="813.2" cy="671.4" r="5.0" fill="#006400"/>
<circle cx="791.7" cy="676.6" r="5.0" fill="#006400"/>
<circle cx="798.6" cy="678.3" r="5.0" fill="#006400"/>
<circle cx="1059.3" cy="674.8" r="5.0" fill="#191970"/>
<circle cx="1072.2" cy="676.0" r="5.0" fill="#191970"/>
<circle cx="1023.3" cy="677.8" r="5.0" fill="#191970"/>
<circle cx="1019.9" cy="676.6" r="5.0" fill="#191970"/>
<circle cx="1031.0" cy="682.0" r="5.0" fill="#191970"/>
<circle cx="922.1" cy="686.0" r="5.0" fill="#191970"/>
<circle cx="954.4" cy="686.5" r="5.0" fill="#006400"/>
<circle cx="992.1" cy="689.1" r="5.0" fill="#191970"/>
<circle cx="811.4" cy="690.6" r="5.0" fill="#006400"/>
<circle cx="920.7" cy="694.6" r="5.0" fill="#006400"/>
<circle cx="913.5" cy="702.3" r="5.0" fill="#006400"/>
<circle cx="892.9" cy="704.0" r="5.0" fill="#2d307e"/>
<circle cx="820.5" cy="707.3" r="5.0" fill="#006400"/>
<circle cx="936.2" cy="707.1" r="5.0" fill="#006400"/>
<circle cx="879.2" cy="708.3" r="5.0" fill="#191970"/>
<circle cx="890.7" cy="711.0" r="5.0" fill="#191970"/>
<circle cx="1054.2" cy="707.8" r="5.0" fill="#191970"/>
<circle cx="832.0" cy="710.9" r="5.0" fill="#191970"/>
<circle cx="835.8" cy="712.6" r="5.0" fill="#006400"/>
<circle cx="1031.0" cy="712.6" r="5.0" fill="#006400"/>
<circle cx="879.2" cy="714.0" r="5.0" fill="#191970"/>
<circle cx="844.4" cy="719.1" r="5.0" fill="#191970"/>
<circle cx="882.3" cy="724.2" r="5.0" fill="#191970"/>
<circle cx="806.6" cy="726.8" r="5.0" fill="#191970"/>
<circle cx="1013.5" cy="727.5" r="5.0" fill="#191970"/>
<circle cx="889.2" cy="729.2" r="5.0" fill="#191970"/>
<circle cx="786.6" cy="730.6" r="5.0" fill="#006400"/>
<circle cx="829.8" cy="731.4" r="5.0" fill="#006400"/>
<circle cx="930.7" cy="731.1" r="5.0" fill="#006400"/>
<circle cx="950.9" cy="730.1" r="5.0" fill="#191970"/>
<circle cx="965.5" cy="730.1" r="5.0" fill="#006400"/>
<circle cx="1074.4" cy="731.1" r="5.0" fill="#006400"/>
<circle cx="1009.3" cy="742.1" r="5.0" fill="#191970"/>
<circle cx="1054.7" cy="746.5" r="5.0" fill="#2d307e"/>
<circle cx="827.2" cy="749.1" r="5.0" fill="#006400"/>
<circle cx="1034.8" cy="752.6" r="5.0" fill="#006400"/>
<circle cx="907.2" cy="752.9" r="5.0" fill="#191970"/>
<circle cx="926.4" cy="752.9" r="5.0" fill="#191970"/>
<circle cx="972.7" cy="753.4" r="5.0" fill="#191970"/>
<circle cx="1089.7" cy="516.1" r="5.0" fill="#191970"/>
<circle cx="1124.5" cy="516.5" r="5.0" fill="#006400"/>
<circle cx="1233.5" cy="525.1" r="5.0" fill="#191970"/>
<circle cx="1168.3" cy="528.7" r="5.0" fill="#006400"/>
<circle cx="1335.9" cy="513.1" r="5.0" fill="#006400"/>
<circle cx="1351.7" cy="512.4" r="5.0" fill="#006400"/>
<circle cx="1389.1" cy="520.4" r="5.0" fill="#006400"/>
<circle cx="1370.2" cy="529.0" r="5.0" fill="#006400"/>
<circle cx="1378.4" cy="531.1" r="5.0" fill="#006400"/>
<circle cx="1133.5" cy="533.3" r="5.0" fill="#191970"/>
<circle cx="1132.3" cy="541.0" r="5.0" fill="#191970"/>
<circle cx="1145.1" cy="538.1" r="5.0" fill="#006400"/>
<circle cx="1175.5" cy="536.2" r="5.0" fill="#006400"/>
<circle cx="1277.2" cy="534.5" r="5.0" fill="#006400"/>
<circle cx="1266.2" cy="540.5" r="5.0" fill="#191970"/>
<circle cx="1325.3" cy="550.5" r="5.0" fill="#191970"/>
<circle cx="1189.6" cy="554.2" r="5.0" fill="#006400"/>
<circle cx="1193.5" cy="557.3" r="5.0" fill="#191970"/>
<circle cx="1205.2" cy="555.3" r="5.0" fill="#191970"/>
<circle cx="1211.5" cy="559.4" r="5.0" fill="#191970"/>
<circle cx="1146.8" cy="555.3" r="5.0" fill="#006400"/>
<circle cx="1148.0" cy="560.4" r="5.0" fill="#006400"/>
<circle cx="1145.5" cy="562.5" r="5.0" fill="#006400"/>
<circle cx="1353.1" cy="554.9" r="5.0" fill="#006400"/>
<circle cx="1378.4" cy="555.3" r="5.0" fill="#191970"/>
<circle cx="1309.0" cy="561.1" r="5.0" fill="#006400"/>
<circle cx="1296.1" cy="570.5" r="5.0" fill="#006400"/>
<circle cx="1091.4" cy="571.4" r="5.0" fill="#006400"/>
<circle cx="1246.2" cy="572.9" r="5.0" fill="#191970"/>
<circle cx="1344.6" cy="575.0" r="5.0" fill="#191970"/>
<circle cx="1118.5" cy="579.6" r="5.0" fill="#16741a"/>
<circle cx="1154.0" cy="587.3" r="5.0" fill="#191970"/>
<circle cx="1384.8" cy="586.1" r="5.0" fill="#191970"/>
<circle cx="1370.2" cy="596.3" r="5.0" fill="#191970"/>
<circle cx="1245.1" cy="597.3" r="5.0" fill="#006400"/>
<circle cx="1198.7" cy="599.7" r="5.0" fill="#191970"/>
<circle cx="1149.4" cy="602.4" r="5.0" fill="#006400"/>
<circle cx="1173.4" cy="605.2" r="5.0" fill="#191970"/>
<circle cx="1149.4" cy="610.0" r="5.0" fill="#191970"/>
<circle cx="1145.1" cy="613.6" r="5.0" fill="#006400"/>
<circle cx="1387.0" cy="610.0" r="5.0" fill="#191970"/>
<circle cx="1297.6" cy="618.2" r="5.0" fill="#191970"/>
<circle cx="1337.1" cy="617.4" r="5.0" fill="#191970"/>
<circle cx="1335.6" cy="620.8" r="5.0" fill="#191970"/>
<circle cx="1237.6" cy="620.1" r="5.0" fill="#16741a"/>
<circle cx="1215.8" cy="620.8" r="5.0" fill="#191970"/>
<circle cx="1215.3" cy="623.9" r="5.0" fill="#191970"/>
<circle cx="1224.0" cy="627.3" r="5.0" fill="#191970"/>
<circle cx="1193.5" cy="627.3" r="5.0" fill="#191970"/>
<circle cx="1229.7" cy="631.9" r="5.0" fill="#006400"/>
<circle cx="1376.2" cy="630.1" r="5.0" fill="#006400"/>
<circle cx="1349.6" cy="638.3" r="5.0" fill="#191970"/>
<circle cx="1261.8" cy="642.4" r="5.0" fill="#191970"/>
<circle cx="1273.3" cy="643.3" r="5.0" fill="#2d307e"/>
<circle cx="1106.0" cy="645.8" r="5.0" fill="#006400"/>
<circle cx="1218.0" cy="650.1" r="5.0" fill="#191970"/>
<circle cx="1323.0" cy="649.4" r="5.0" fill="#191970"/>
<circle cx="1376.2" cy="650.8" r="5.0" fill="#16741a"/>
<circle cx="1151.8" cy="661.8" r="5.0" fill="#191970"/>
<circle cx="1212.2" cy="662.3" r="5.0" fill="#191970"/>
<circle cx="1353.9" cy="660.9" r="5.0" fill="#006400"/>
<circle cx="1142.6" cy="667.5" r="5.0" fill="#191970"/>
<circle cx="1373.3" cy="667.1" r="5.0" fill="#191970"/>
<circle cx="1346.7" cy="672.9" r="5.0" fill="#191970"/>
<circle cx="1239.0" cy="678.3" r="5.0" fill="#191970"/>
<circle cx="1262.8" cy="678.3" r="5.0" fill="#191970"/>
<circle cx="1190.9" cy="680.0" r="5.0" fill="#191970"/>
<circle cx="1090.6" cy="682.6" r="5.0" fill="#006400"/>
<circle cx="1110.3" cy="683.8" r="5.0" fill="#006400"/>
<circle cx="1385.6" cy="683.8" r="5.0" fill="#191970"/>
<circle cx="1242.7" cy="685.6" r="5.0" fill="#191970"/>
<circle cx="1380.5" cy="686.8" r="5.0" fill="#006400"/>
<circle cx="1160.1" cy="689.1" r="5.0" fill="#191970"/>
<circle cx="1116.3" cy="690.3" r="5.0" fill="#006400"/>
<circle cx="1128.7" cy="694.2" r="5.0" fill="#191970"/>
<circle cx="1350.0" cy="692.8" r="5.0" fill="#16741a"/>
<circle cx="1233.7" cy="699.4" r="5.0" fill="#006400"/>
<circle cx="1131.7" cy="700.2" r="5.0" fill="#191970"/>
<circle cx="1151.5" cy="700.9" r="5.0" fill="#191970"/>
<circle cx="1171.4" cy="699.2" r="5.0" fill="#2d307e"/>
<circle cx="1306.4" cy="699.2" r="5.0" fill="#191970"/>
<circle cx="1376.6" cy="700.2" r="5.0" fill="#191970"/>
<circle cx="1221.1" cy="703.5" r="5.0" fill="#2d307e"/>
<circle cx="1372.8" cy="707.9" r="5.0" fill="#191970"/>
<circle cx="1187.0" cy="714.6" r="5.0" fill="#006400"/>
<circle cx="1118.5" cy="716.2" r="5.0" fill="#006400"/>
<circle cx="1100.0" cy="722.0" r="5.0" fill="#191970"/>
<circle cx="1211.5" cy="725.8" r="5.0" fill="#191970"/>
<circle cx="1215.0" cy="727.5" r="5.0" fill="#006400"/>
<circle cx="1270.4" cy="726.8" r="5.0" fill="#006400"/>
<circle cx="1247.9" cy="728.2" r="5.0" fill="#191970"/>
<circle cx="1167.4" cy="730.4" r="5.0" fill="#16741a"/>
<circle cx="1120.9" cy="733.2" r="5.0" fill="#16741a"/>
<circle cx="1317.9" cy="732.7" r="5.0" fill="#006400"/>
<circle cx="1261.3" cy="733.5" r="5.0" fill="#006400"/>
<circle cx="1272.4" cy="734.9" r="5.0" fill="#006400"/>
<circle cx="1369.7" cy="739.3" r="5.0" fill="#191970"/>
<circle cx="1388.6" cy="741.7" r="5.0" fill="#191970"/>
<circle cx="1199.2" cy="743.5" r="5.0" fill="#191970"/>
<circle cx="1379.1" cy="744.3" r="5.0" fill="#191970"/>
<circle cx="1263.5" cy="745.2" r="5.0" fill="#006400"/>
<circle cx="1277.9" cy="744.3" r="5.0" fill="#006400"/>
<circle cx="1289.6" cy="744.3" r="5.0" fill="#006400"/>
<circle cx="1209.5" cy="750.3" r="5.0" fill="#006400"/>
<circle cx="1247.9" cy="751.7" r="5.0" fill="#006400"/>
<circle cx="1127.5" cy="753.4" r="5.0" fill="#191970"/>
<circle cx="1211.9" cy="755.5" r="5.0" fill="#006400"/>
<circle cx="527.3" cy="764.7" r="5.0" fill="#006400"/>
<circle cx="640.5" cy="759.6" r="5.0" fill="#2d307e"/>
<circle cx="677.7" cy="759.6" r="5.0" fill="#191970"/>
<circle cx="564.5" cy="769.0" r="5.0" fill="#006400"/>
<circle cx="622.5" cy="770.4" r="5.0" fill="#191970"/>
<circle cx="691.6" cy="769.9" r="5.0" fill="#006400"/>
<circle cx="703.1" cy="769.0" r="5.0" fill="#191970"/>
<circle cx="561.6" cy="776.7" r="5.0" fill="#191970"/>
<circle cx="663.8" cy="777.2" r="5.0" fill="#191970"/>
<circle cx="633.0" cy="781.0" r="5.0" fill="#191970"/>
<circle cx="562.0" cy="782.7" r="5.0" fill="#006400"/>
<circle cx="603.1" cy="785.3" r="5.0" fill="#006400"/>
<circle cx="548.6" cy="788.7" r="5.0" fill="#191970"/>
<circle cx="622.7" cy="789.9" r="5.0" fill="#191970"/>
<circle cx="583.1" cy="791.6" r="5.0" fill="#191970"/>
<circle cx="751.2" cy="786.2" r="5.0" fill="#191970"/>
<circle cx="783.7" cy="782.7" r="5.0" fill="#006400"/>
<circle cx="702.3" cy="793.4" r="5.0" fill="#191970"/>
<circle cx="607.9" cy="797.5" r="5.0" fill="#191970"/>
<circle cx="725.9" cy="799.9" r="5.0" fill="#191970"/>
<circle cx="746.5" cy="803.3" r="5.0" fill="#191970"/>
<circle cx="701.1" cy="809.8" r="5.0" fill="#191970"/>
<circle cx="520.1" cy="811.2" r="5.0" fill="#191970"/>
<circle cx="712.2" cy="815.8" r="5.0" fill="#2d307e"/>
<circle cx="594.6" cy="816.3" r="5.0" fill="#006400"/>
<circle cx="507.2" cy="822.5" r="5.0" fill="#006400"/>
<circle cx="774.3" cy="821.5" r="5.0" fill="#16741a"/>
<circle cx="759.4" cy="830.2" r="5.0" fill="#191970"/>
<circle cx="535.9" cy="836.4" r="5.0" fill="#006400"/>
<circle cx="599.0" cy="836.2" r="5.0" fill="#191970"/>
<circle cx="587.0" cy="841.7" r="5.0" fill="#191970"/>
<circle cx="648.8" cy="841.9" r="5.0" fill="#006400"/>
<circle cx="518.7" cy="842.8" r="5.0" fill="#2d307e"/>
<circle cx="719.1" cy="845.7" r="5.0" fill="#191970"/>
<circle cx="750.3" cy="845.9" r="5.0" fill="#191970"/>
<circle cx="676.5" cy="847.4" r="5.0" fill="#191970"/>
<circle cx="720.6" cy="860.1" r="5.0" fill="#006400"/>
<circle cx="662.8" cy="861.6" r="5.0" fill="#191970"/>
<circle cx="551.0" cy="865.6" r="5.0" fill="#191970"/>
<circle cx="736.6" cy="874.2" r="5.0" fill="#191970"/>
<circle cx="689.6" cy="876.0" r="5.0" fill="#191970"/>
<circle cx="550.5" cy="878.4" r="5.0" fill="#191970"/>
<circle cx="570.2" cy="881.7" r="5.0" fill="#191970"/>
<circle cx="575.0" cy="884.1" r="5.0" fill="#191970"/>
<circle cx="591.6" cy="892.0" r="5.0" fill="#191970"/>
<circle cx="636.7" cy="892.5" r="5.0" fill="#191970"/>
<circle cx="549.6" cy="893.4" r="5.0" fill="#191970"/>
<circle cx="767.1" cy="894.6" r="5.0" fill="#191970"/>
<circle cx="756.1" cy="896.5" r="5.0" fill="#191970"/>
<circle cx="594.2" cy="903.0" r="5.0" fill="#191970"/>
<circle cx="734.0" cy="903.5" r="5.0" fill="#191970"/>
<circle cx="624.7" cy="905.5" r="5.0" fill="#2d307e"/>
<circle cx="583.9" cy="908.6" r="5.0" fill="#191970"/>
<circle cx="592.5" cy="905.4" r="5.0" fill="#191970"/>
<circle cx="645.7" cy="920.5" r="5.0" fill="#191970"/>
<circle cx="660.4" cy="919.1" r="5.0" fill="#191970"/>
<circle cx="631.4" cy="921.8" r="5.0" fill="#006400"/>
<circle cx="751.2" cy="921.3" r="5.0" fill="#006400"/>
<circle cx="574.5" cy="927.5" r="5.0" fill="#191970"/>
<circle cx="750.0" cy="933.5" r="5.0" fill="#006400"/>
<circle cx="634.5" cy="943.1" r="5.0" fill="#191970"/>
<circle cx="623.0" cy="946.5" r="5.0" fill="#006400"/>
<circle cx="761.1" cy="954.6" r="5.0" fill="#191970"/>
<circle cx="701.9" cy="956.1" r="5.0" fill="#006400"/>
<circle cx="569.5" cy="961.5" r="5.0" fill="#191970"/>
<circle cx="618.2" cy="963.7" r="5.0" fill="#006400"/>
<circle cx="712.0" cy="965.7" r="5.0" fill="#006400"/>
<circle cx="700.6" cy="968.0" r="5.0" fill="#006400"/>
<circle cx="640.5" cy="969.2" r="5.0" fill="#191970"/>
<circle cx="704.0" cy="973.1" r="5.0" fill="#006400"/>
<circle cx="668.3" cy="980.3" r="5.0" fill="#191970"/>
<circle cx="687.7" cy="988.6" r="5.0" fill="#191970"/>
<circle cx="658.5" cy="991.1" r="5.0" fill="#2d307e"/>
<circle cx="791.7" cy="761.3" r="5.0" fill="#191970"/>
<circle cx="823.1" cy="764.2" r="5.0" fill="#191970"/>
<circle cx="883.8" cy="762.5" r="5.0" fill="#006400"/>
<circle cx="934.5" cy="760.1" r="5.0" fill="#006400"/>
<circle cx="860.9" cy="775.4" r="5.0" fill="#006400"/>
<circle cx="828.3" cy="778.8" r="5.0" fill="#16741a"/>
<circle cx="786.6" cy="783.1" r="5.0" fill="#006400"/>
<circle cx="967.2" cy="782.9" r="5.0" fill="#006400"/>
<circle cx="980.1" cy="781.0" r="5.0" fill="#006400"/>
<circle cx="1031.9" cy="778.4" r="5.0" fill="#006400"/>
<circle cx="1037.9" cy="781.0" r="5.0" fill="#006400"/>
<circle cx="981.6" cy="787.9" r="5.0" fill="#006400"/>
<circle cx="1079.1" cy="786.2" r="5.0" fill="#191970"/>
<circle cx="858.3" cy="786.2" r="5.0" fill="#006400"/>
<circle cx="894.3" cy="789.4" r="5.0" fill="#191970"/>
<circle cx="1056.4" cy="788.7" r="5.0" fill="#006400"/>
<circle cx="797.7" cy="792.3" r="5.0" fill="#191970"/>
<circle cx="827.4" cy="792.2" r="5.0" fill="#006400"/>
<circle cx="872.4" cy="792.2" r="5.0" fill="#006400"/>
<circle cx="914.0" cy="792.5" r="5.0" fill="#191970"/>
<circle cx="1000.2" cy="791.7" r="5.0" fill="#2d307e"/>
<circle cx="1039.1" cy="790.5" r="5.0" fill="#006400"/>
<circle cx="1017.8" cy="797.1" r="5.0" fill="#006400"/>
<circle cx="901.9" cy="800.2" r="5.0" fill="#191970"/>
<circle cx="1059.3" cy="799.0" r="5.0" fill="#006400"/>
<circle cx="997.1" cy="802.6" r="5.0" fill="#191970"/>
<circle cx="877.7" cy="804.3" r="5.0" fill="#191970"/>
<circle cx="1051.3" cy="802.5" r="5.0" fill="#006400"/>
<circle cx="1038.2" cy="804.5" r="5.0" fill="#16741a"/>
<circle cx="874.4" cy="809.3" r="5.0" fill="#191970"/>
<circle cx="985.9" cy="811.4" r="5.0" fill="#006400"/>
<circle cx="994.7" cy="811.0" r="5.0" fill="#006400"/>
<circle cx="1001.5" cy="811.0" r="5.0" fill="#191970"/>
<circle cx="1044.3" cy="812.2" r="5.0" fill="#191970"/>
<circle cx="1053.7" cy="813.6" r="5.0" fill="#006400"/>
<circle cx="915.2" cy="814.1" r="5.0" fill="#191970"/>
<circle cx="934.6" cy="815.3" r="5.0" fill="#006400"/>
<circle cx="1058.5" cy="819.1" r="5.0" fill="#006400"/>
<circle cx="993.3" cy="818.8" r="5.0" fill="#191970"/>
<circle cx="804.6" cy="820.6" r="5.0" fill="#006400"/>
<circle cx="843.5" cy="824.4" r="5.0" fill="#006400"/>
<circle cx="871.8" cy="823.7" r="5.0" fill="#16741a"/>
<circle cx="1001.0" cy="822.5" r="5.0" fill="#2d307e"/>
<circle cx="827.7" cy="828.2" r="5.0" fill="#006400"/>
<circle cx="804.9" cy="830.1" r="5.0" fill="#006400"/>
<circle cx="857.1" cy="830.3" r="5.0" fill="#191970"/>
<circle cx="837.2" cy="831.8" r="5.0" fill="#191970"/>
<circle cx="998.8" cy="831.3" r="5.0" fill="#191970"/>
<circle cx="990.7" cy="834.5" r="5.0" fill="#006400"/>
<circle cx="1083.0" cy="833.0" r="5.0" fill="#006400"/>
<circle cx="1082.0" cy="844.3" r="5.0" fill="#191970"/>
<circle cx="789.1" cy="846.7" r="5.0" fill="#16741a"/>
<circle cx="798.6" cy="849.6" r="5.0" fill="#16741a"/>
<circle cx="862.9" cy="849.6" r="5.0" fill="#006400"/>
<circle cx="888.1" cy="850.7" r="5.0" fill="#191970"/>
<circle cx="1002.2" cy="851.0" r="5.0" fill="#006400"/>
<circle cx="1002.2" cy="856.5" r="5.0" fill="#006400"/>
<circle cx="987.3" cy="859.1" r="5.0" fill="#006400"/>
<circle cx="1067.4" cy="859.4" r="5.0" fill="#006400"/>
<circle cx="824.3" cy="859.9" r="5.0" fill="#191970"/>
<circle cx="904.1" cy="859.9" r="5.0" fill="#191970"/>
<circle cx="882.3" cy="862.2" r="5.0" fill="#16741a"/>
<circle cx="982.5" cy="863.9" r="5.0" fill="#006400"/>
<circle cx="1079.4" cy="863.4" r="5.0" fill="#191970"/>
<circle cx="853.1" cy="866.3" r="5.0" fill="#006400"/>
<circle cx="1010.5" cy="866.5" r="5.0" fill="#006400"/>
<circle cx="937.9" cy="868.5" r="5.0" fill="#2d307e"/>
<circle cx="808.4" cy="870.2" r="5.0" fill="#191970"/>
<circle cx="846.6" cy="872.3" r="5.0" fill="#006400"/>
<circle cx="1075.1" cy="871.1" r="5.0" fill="#006400"/>
<circle cx="814.4" cy="877.1" r="5.0" fill="#006400"/>
<circle cx="944.7" cy="877.1" r="5.0" fill="#191970"/>
<circle cx="1075.1" cy="879.1" r="5.0" fill="#191970"/>
<circle cx="920.7" cy="887.9" r="5.0" fill="#191970"/>
<circle cx="860.7" cy="890.5" r="5.0" fill="#191970"/>
<circle cx="889.0" cy="891.3" r="5.0" fill="#191970"/>
<circle cx="824.0" cy="892.9" r="5.0" fill="#191970"/>
<circle cx="838.6" cy="892.2" r="5.0" fill="#006400"/>
<circle cx="802.0" cy="896.5" r="5.0" fill="#006400"/>
<circle cx="810.9" cy="898.5" r="5.0" fill="#006400"/>
<circle cx="916.3" cy="911.4" r="5.0" fill="#191970"/>
<circle cx="1065.7" cy="910.2" r="5.0" fill="#006400"/>
<circle cx="1038.2" cy="913.5" r="5.0" fill="#006400"/>
<circle cx="1069.6" cy="914.5" r="5.0" fill="#006400"/>
<circle cx="1052.8" cy="919.1" r="5.0" fill="#006400"/>
<circle cx="1067.1" cy="920.8" r="5.0" fill="#006400"/>
<circle cx="826.0" cy="925.8" r="5.0" fill="#006400"/>
<circle cx="977.3" cy="925.3" r="5.0" fill="#191970"/>
<circle cx="981.6" cy="931.6" r="5.0" fill="#191970"/>
<circle cx="1004.1" cy="928.2" r="5.0" fill="#191970"/>
<circle cx="1025.2" cy="928.0" r="5.0" fill="#006400"/>
<circle cx="1075.1" cy="927.7" r="5.0" fill="#191970"/>
<circle cx="1038.8" cy="931.1" r="5.0" fill="#006400"/>
<circle cx="1050.4" cy="931.6" r="5.0" fill="#006400"/>
<circle cx="1064.8" cy="931.5" r="5.0" fill="#006400"/>
<circle cx="1040.5" cy="936.3" r="5.0" fill="#006400"/>
<circle cx="1055.9" cy="943.1" r="5.0" fill="#006400"/>
<circle cx="884.0" cy="946.2" r="5.0" fill="#006400"/>
<circle cx="1063.1" cy="945.4" r="5.0" fill="#006400"/>
<circle cx="890.4" cy="953.4" r="5.0" fill="#006400"/>
<circle cx="847.5" cy="953.4" r="5.0" fill="#191970"/>
<circle cx="799.1" cy="955.7" r="5.0" fill="#191970"/>
<circle cx="954.4" cy="956.0" r="5.0" fill="#16741a"/>
<circle cx="879.2" cy="961.7" r="5.0" fill="#006400"/>
<circle cx="928.6" cy="962.9" r="5.0" fill="#2d307e"/>
<circle cx="1042.2" cy="966.0" r="5.0" fill="#006400"/>
<circle cx="828.1" cy="970.9" r="5.0" fill="#191970"/>
<circle cx="872.9" cy="969.7" r="5.0" fill="#006400"/>
<circle cx="883.0" cy="972.5" r="5.0" fill="#191970"/>
<circle cx="940.6" cy="971.8" r="5.0" fill="#006400"/>
<circle cx="1043.0" cy="973.5" r="5.0" fill="#006400"/>
<circle cx="950.2" cy="977.6" r="5.0" fill="#191970"/>
<circle cx="1050.3" cy="977.1" r="5.0" fill="#006400"/>
<circle cx="1083.9" cy="980.5" r="5.0" fill="#191970"/>
<circle cx="786.6" cy="980.9" r="5.0" fill="#191970"/>
<circle cx="882.3" cy="982.6" r="5.0" fill="#006400"/>
<circle cx="1051.3" cy="985.2" r="5.0" fill="#191970"/>
<circle cx="935.5" cy="985.2" r="5.0" fill="#006400"/>
<circle cx="912.2" cy="986.9" r="5.0" fill="#006400"/>
<circle cx="892.1" cy="990.3" r="5.0" fill="#006400"/>
<circle cx="879.2" cy="993.2" r="5.0" fill="#006400"/>
<circle cx="915.6" cy="992.0" r="5.0" fill="#006400"/>
<circle cx="892.1" cy="994.6" r="5.0" fill="#006400"/>
<circle cx="901.2" cy="997.2" r="5.0" fill="#006400"/>
<circle cx="885.2" cy="997.7" r="5.0" fill="#006400"/>
<circle cx="864.1" cy="1000.6" r="5.0" fill="#191970"/>
<circle cx="811.4" cy="1002.3" r="5.0" fill="#006400"/>
<circle cx="983.0" cy="1001.5" r="5.0" fill="#006400"/>
<circle cx="1174.6" cy="764.4" r="5.0" fill="#006400"/>
<circle cx="1212.4" cy="757.9" r="5.0" fill="#006400"/>
<circle cx="1367.3" cy="765.6" r="5.0" fill="#191970"/>
<circle cx="1381.4" cy="766.4" r="5.0" fill="#006400"/>
<circle cx="1109.4" cy="775.9" r="5.0" fill="#191970"/>
<circle cx="1145.1" cy="773.8" r="5.0" fill="#2d307e"/>
<circle cx="1164.3" cy="773.6" r="5.0" fill="#191970"/>
<circle cx="1306.7" cy="773.8" r="5.0" fill="#006400"/>
<circle cx="1230.7" cy="776.7" r="5.0" fill="#191970"/>
<circle cx="1325.3" cy="779.0" r="5.0" fill="#006400"/>
<circle cx="1225.2" cy="782.4" r="5.0" fill="#2d307e"/>
<circle cx="1264.7" cy="787.4" r="5.0" fill="#191970"/>
<circle cx="1267.3" cy="785.3" r="5.0" fill="#191970"/>
<circle cx="1136.0" cy="790.5" r="5.0" fill="#2d307e"/>
<circle cx="1193.5" cy="793.2" r="5.0" fill="#16741a"/>
<circle cx="1149.4" cy="794.9" r="5.0" fill="#191970"/>
<circle cx="1153.2" cy="795.6" r="5.0" fill="#006400"/>
<circle cx="1352.2" cy="796.1" r="5.0" fill="#2d307e"/>
<circle cx="1370.2" cy="795.1" r="5.0" fill="#2d307e"/>
<circle cx="1325.9" cy="797.5" r="5.0" fill="#006400"/>
<circle cx="1338.1" cy="796.8" r="5.0" fill="#006400"/>
<circle cx="1288.7" cy="805.0" r="5.0" fill="#006400"/>
<circle cx="1328.7" cy="806.4" r="5.0" fill="#006400"/>
<circle cx="1136.0" cy="808.8" r="5.0" fill="#191970"/>
<circle cx="1116.3" cy="809.7" r="5.0" fill="#2d307e"/>
<circle cx="1212.4" cy="812.2" r="5.0" fill="#006400"/>
<circle cx="1303.8" cy="818.4" r="5.0" fill="#2d307e"/>
<circle cx="1127.5" cy="820.5" r="5.0" fill="#191970"/>
<circle cx="1143.4" cy="820.6" r="5.0" fill="#191970"/>
<circle cx="1228.2" cy="820.8" r="5.0" fill="#191970"/>
<circle cx="1306.2" cy="824.2" r="5.0" fill="#2d307e"/>
<circle cx="1368.2" cy="822.7" r="5.0" fill="#191970"/>
<circle cx="1378.4" cy="825.3" r="5.0" fill="#2d307e"/>
<circle cx="1126.1" cy="833.0" r="5.0" fill="#191970"/>
<circle cx="1093.1" cy="836.8" r="5.0" fill="#191970"/>
<circle cx="1376.7" cy="835.9" r="5.0" fill="#191970"/>
<circle cx="1193.0" cy="838.1" r="5.0" fill="#191970"/>
<circle cx="1338.8" cy="838.5" r="5.0" fill="#2d307e"/>
<circle cx="1113.4" cy="842.3" r="5.0" fill="#2d307e"/>
<circle cx="1371.1" cy="844.5" r="5.0" fill="#191970"/>
<circle cx="1134.3" cy="846.7" r="5.0" fill="#191970"/>
<circle cx="1267.4" cy="849.3" r="5.0" fill="#191970"/>
<circle cx="1200.4" cy="851.0" r="5.0" fill="#191970"/>
<circle cx="1295.6" cy="851.7" r="5.0" fill="#191970"/>
<circle cx="1358.2" cy="851.0" r="5.0" fill="#191970"/>
<circle cx="1241.0" cy="854.4" r="5.0" fill="#191970"/>
<circle cx="1305.5" cy="856.2" r="5.0" fill="#006400"/>
<circle cx="1346.5" cy="859.6" r="5.0" fill="#191970"/>
<circle cx="1325.9" cy="862.5" r="5.0" fill="#191970"/>
<circle cx="1093.5" cy="865.4" r="5.0" fill="#006400"/>
<circle cx="1280.5" cy="867.3" r="5.0" fill="#191970"/>
<circle cx="1289.9" cy="869.0" r="5.0" fill="#191970"/>
<circle cx="1315.0" cy="866.5" r="5.0" fill="#006400"/>
<circle cx="1307.6" cy="868.9" r="5.0" fill="#006400"/>
<circle cx="1352.2" cy="869.4" r="5.0" fill="#191970"/>
<circle cx="1302.8" cy="875.0" r="5.0" fill="#191970"/>
<circle cx="1271.6" cy="876.2" r="5.0" fill="#191970"/>
<circle cx="1270.7" cy="888.6" r="5.0" fill="#16741a"/>
<circle cx="1226.1" cy="889.3" r="5.0" fill="#191970"/>
<circle cx="1143.4" cy="889.6" r="5.0" fill="#191970"/>
<circle cx="1096.6" cy="892.5" r="5.0" fill="#191970"/>
<circle cx="1118.9" cy="891.8" r="5.0" fill="#191970"/>
<circle cx="1156.8" cy="893.7" r="5.0" fill="#006400"/>
<circle cx="1245.3" cy="898.2" r="5.0" fill="#191970"/>
<circle cx="1323.9" cy="898.0" r="5.0" fill="#006400"/>
<circle cx="1146.3" cy="900.4" r="5.0" fill="#191970"/>
<circle cx="1310.7" cy="901.6" r="5.0" fill="#006400"/>
<circle cx="1330.8" cy="902.0" r="5.0" fill="#191970"/>
<circle cx="1215.3" cy="906.8" r="5.0" fill="#191970"/>
<circle cx="1246.2" cy="905.9" r="5.0" fill="#191970"/>
<circle cx="1140.5" cy="911.4" r="5.0" fill="#006400"/>
<circle cx="1252.7" cy="913.3" r="5.0" fill="#191970"/>
<circle cx="1320.1" cy="914.5" r="5.0" fill="#191970"/>
<circle cx="1184.9" cy="916.0" r="5.0" fill="#191970"/>
<circle cx="1160.2" cy="917.1" r="5.0" fill="#006400"/>
<circle cx="1245.8" cy="918.8" r="5.0" fill="#006400"/>
<circle cx="1179.8" cy="923.1" r="5.0" fill="#006400"/>
<circle cx="1176.2" cy="926.3" r="5.0" fill="#006400"/>
<circle cx="1202.4" cy="925.5" r="5.0" fill="#006400"/>
<circle cx="1218.4" cy="926.3" r="5.0" fill="#006400"/>
<circle cx="1339.0" cy="924.8" r="5.0" fill="#006400"/>
<circle cx="1194.0" cy="930.8" r="5.0" fill="#006400"/>
<circle cx="1325.6" cy="937.1" r="5.0" fill="#191970"/>
<circle cx="1299.4" cy="944.5" r="5.0" fill="#191970"/>
<circle cx="1278.4" cy="946.6" r="5.0" fill="#191970"/>
<circle cx="1367.6" cy="944.5" r="5.0" fill="#191970"/>
<circle cx="1377.9" cy="945.7" r="5.0" fill="#006400"/>
<circle cx="1132.9" cy="964.9" r="5.0" fill="#191970"/>
<circle cx="1232.6" cy="965.6" r="5.0" fill="#16741a"/>
<circle cx="1251.5" cy="964.9" r="5.0" fill="#006400"/>
<circle cx="1139.8" cy="970.6" r="5.0" fill="#191970"/>
<circle cx="1153.9" cy="970.9" r="5.0" fill="#16741a"/>
<circle cx="1317.4" cy="972.3" r="5.0" fill="#191970"/>
<circle cx="1349.3" cy="972.3" r="5.0" fill="#191970"/>
<circle cx="1385.1" cy="969.7" r="5.0" fill="#191970"/>
<circle cx="1255.3" cy="974.5" r="5.0" fill="#006400"/>
<circle cx="1368.5" cy="972.8" r="5.0" fill="#191970"/>
<circle cx="1370.7" cy="976.2" r="5.0" fill="#191970"/>
<circle cx="1362.0" cy="980.9" r="5.0" fill="#191970"/>
<circle cx="1388.2" cy="980.9" r="5.0" fill="#191970"/>
<circle cx="1368.5" cy="982.6" r="5.0" fill="#191970"/>
<circle cx="1172.2" cy="986.4" r="5.0" fill="#191970"/>
<circle cx="1139.8" cy="988.9" r="5.0" fill="#191970"/>
<circle cx="1252.7" cy="991.2" r="5.0" fill="#191970"/>
<circle cx="1306.2" cy="990.5" r="5.0" fill="#191970"/>
<circle cx="1254.4" cy="998.0" r="5.0" fill="#191970"/>
<circle cx="628.5" cy="1006.1" r="5.0" fill="#191970"/>
<circle cx="781.2" cy="1005.7" r="5.0" fill="#2d307e"/>
<circle cx="656.8" cy="1016.5" r="5.0" fill="#006400"/>
<circle cx="694.2" cy="1015.8" r="5.0" fill="#006400"/>
<circle cx="663.5" cy="1023.9" r="5.0" fill="#191970"/>
<circle cx="594.6" cy="1023.9" r="5.0" fill="#006400"/>
<circle cx="611.0" cy="1027.3" r="5.0" fill="#006400"/>
<circle cx="556.5" cy="1030.2" r="5.0" fill="#006400"/>
<circle cx="750.6" cy="1032.0" r="5.0" fill="#006400"/>
<circle cx="694.6" cy="1036.8" r="5.0" fill="#2d307e"/>
<circle cx="774.3" cy="1040.9" r="5.0" fill="#191970"/>
<circle cx="656.5" cy="1044.1" r="5.0" fill="#006400"/>
<circle cx="694.2" cy="1053.6" r="5.0" fill="#006400"/>
<circle cx="718.6" cy="1053.7" r="5.0" fill="#006400"/>
<circle cx="713.1" cy="1054.9" r="5.0" fill="#006400"/>
<circle cx="666.2" cy="1058.5" r="5.0" fill="#191970"/>
<circle cx="649.1" cy="1072.3" r="5.0" fill="#191970"/>
<circle cx="776.0" cy="1103.0" r="5.0" fill="#006400"/>
<circle cx="742.1" cy="1108.3" r="5.0" fill="#16741a"/>
<circle cx="746.4" cy="1115.1" r="5.0" fill="#191970"/>
<circle cx="747.2" cy="1121.7" r="5.0" fill="#006400"/>
<circle cx="777.4" cy="1131.3" r="5.0" fill="#191970"/>
<circle cx="725.1" cy="1143.1" r="5.0" fill="#006400"/>
<circle cx="741.2" cy="1143.5" r="5.0" fill="#006400"/>
<circle cx="748.1" cy="1152.4" r="5.0" fill="#006400"/>
<circle cx="780.8" cy="1156.1" r="5.0" fill="#006400"/>
<circle cx="941.5" cy="1008.3" r="5.0" fill="#191970"/>
<circle cx="847.1" cy="1019.4" r="5.0" fill="#191970"/>
<circle cx="843.2" cy="1022.2" r="5.0" fill="#006400"/>
<circle cx="992.4" cy="1018.1" r="5.0" fill="#191970"/>
<circle cx="1006.5" cy="1020.3" r="5.0" fill="#006400"/>
<circle cx="1031.9" cy="1018.6" r="5.0" fill="#006400"/>
<circle cx="1035.3" cy="1019.1" r="5.0" fill="#006400"/>
<circle cx="1067.1" cy="1020.0" r="5.0" fill="#191970"/>
<circle cx="846.3" cy="1027.5" r="5.0" fill="#191970"/>
<circle cx="883.2" cy="1030.6" r="5.0" fill="#2d307e"/>
<circle cx="831.5" cy="1032.3" r="5.0" fill="#006400"/>
<circle cx="1038.4" cy="1031.4" r="5.0" fill="#006400"/>
<circle cx="817.5" cy="1039.3" r="5.0" fill="#006400"/>
<circle cx="997.1" cy="1039.0" r="5.0" fill="#191970"/>
<circle cx="887.3" cy="1041.2" r="5.0" fill="#191970"/>
<circle cx="913.5" cy="1041.9" r="5.0" fill="#006400"/>
<circle cx="810.6" cy="1045.7" r="5.0" fill="#191970"/>
<circle cx="929.5" cy="1049.5" r="5.0" fill="#2d307e"/>
<circle cx="932.9" cy="1052.6" r="5.0" fill="#191970"/>
<circle cx="951.6" cy="1054.4" r="5.0" fill="#006400"/>
<circle cx="1051.8" cy="1052.6" r="5.0" fill="#191970"/>
<circle cx="1040.1" cy="1058.9" r="5.0" fill="#191970"/>
<circle cx="983.0" cy="1061.0" r="5.0" fill="#191970"/>
<circle cx="987.3" cy="1061.0" r="5.0" fill="#191970"/>
<circle cx="887.3" cy="1062.0" r="5.0" fill="#191970"/>
<circle cx="912.7" cy="1063.2" r="5.0" fill="#16741a"/>
<circle cx="1077.9" cy="1064.7" r="5.0" fill="#191970"/>
<circle cx="922.6" cy="1068.8" r="5.0" fill="#191970"/>
<circle cx="872.4" cy="1069.9" r="5.0" fill="#006400"/>
<circle cx="1040.5" cy="1068.0" r="5.0" fill="#006400"/>
<circle cx="1030.5" cy="1070.9" r="5.0" fill="#006400"/>
<circle cx="1055.1" cy="1072.1" r="5.0" fill="#191970"/>
<circle cx="1067.4" cy="1076.4" r="5.0" fill="#006400"/>
<circle cx="811.1" cy="1077.4" r="5.0" fill="#006400"/>
<circle cx="823.1" cy="1079.1" r="5.0" fill="#191970"/>
<circle cx="1051.3" cy="1076.9" r="5.0" fill="#006400"/>
<circle cx="1045.1" cy="1079.5" r="5.0" fill="#006400"/>
<circle cx="1056.3" cy="1082.4" r="5.0" fill="#006400"/>
<circle cx="1049.1" cy="1086.3" r="5.0" fill="#006400"/>
<circle cx="813.5" cy="1087.4" r="5.0" fill="#16741a"/>
<circle cx="786.6" cy="1090.8" r="5.0" fill="#006400"/>
<circle cx="831.2" cy="1092.7" r="5.0" fill="#006400"/>
<circle cx="1074.4" cy="1093.4" r="5.0" fill="#191970"/>
<circle cx="1069.8" cy="1101.3" r="5.0" fill="#191970"/>
<circle cx="1037.0" cy="1102.6" r="5.0" fill="#191970"/>
<circle cx="799.4" cy="1103.7" r="5.0" fill="#006400"/>
<circle cx="972.2" cy="1106.6" r="5.0" fill="#191970"/>
<circle cx="1037.0" cy="1113.8" r="5.0" fill="#006400"/>
<circle cx="891.2" cy="1119.3" r="5.0" fill="#191970"/>
<circle cx="825.7" cy="1128.5" r="5.0" fill="#16741a"/>
<circle cx="868.2" cy="1128.2" r="5.0" fill="#191970"/>
<circle cx="982.5" cy="1128.2" r="5.0" fill="#191970"/>
<circle cx="828.6" cy="1137.8" r="5.0" fill="#191970"/>
<circle cx="954.2" cy="1143.1" r="5.0" fill="#191970"/>
<circle cx="1000.7" cy="1144.7" r="5.0" fill="#191970"/>
<circle cx="1076.2" cy="1150.3" r="5.0" fill="#191970"/>
<circle cx="794.3" cy="1151.9" r="5.0" fill="#006400"/>
<circle cx="804.9" cy="1153.6" r="5.0" fill="#006400"/>
<circle cx="825.5" cy="1151.5" r="5.0" fill="#191970"/>
<circle cx="925.0" cy="1154.5" r="5.0" fill="#191970"/>
<circle cx="961.7" cy="1153.6" r="5.0" fill="#006400"/>
<circle cx="869.4" cy="1155.5" r="5.0" fill="#191970"/>
<circle cx="1065.9" cy="1157.5" r="5.0" fill="#191970"/>
<circle cx="1055.1" cy="1161.8" r="5.0" fill="#2d307e"/>
<circle cx="812.8" cy="1162.7" r="5.0" fill="#006400"/>
<circle cx="832.9" cy="1163.0" r="5.0" fill="#006400"/>
<circle cx="1043.6" cy="1163.5" r="5.0" fill="#006400"/>
<circle cx="902.7" cy="1165.6" r="5.0" fill="#006400"/>
<circle cx="878.4" cy="1168.2" r="5.0" fill="#006400"/>
<circle cx="797.4" cy="1172.1" r="5.0" fill="#006400"/>
<circle cx="853.5" cy="1171.8" r="5.0" fill="#006400"/>
<circle cx="861.5" cy="1172.6" r="5.0" fill="#006400"/>
<circle cx="851.8" cy="1173.5" r="5.0" fill="#006400"/>
<circle cx="904.1" cy="1172.6" r="5.0" fill="#006400"/>
<circle cx="933.3" cy="1174.7" r="5.0" fill="#191970"/>
<circle cx="1042.5" cy="1176.6" r="5.0" fill="#191970"/>
<circle cx="949.6" cy="1189.1" r="5.0" fill="#191970"/>
<circle cx="1122.7" cy="1010.3" r="5.0" fill="#006400"/>
<circle cx="1163.5" cy="1012.2" r="5.0" fill="#191970"/>
<circle cx="1226.1" cy="1016.4" r="5.0" fill="#2d307e"/>
<circle cx="1300.2" cy="1010.9" r="5.0" fill="#191970"/>
<circle cx="1344.1" cy="1005.4" r="5.0" fill="#191970"/>
<circle cx="1362.5" cy="1009.1" r="5.0" fill="#191970"/>
<circle cx="1292.2" cy="1026.8" r="5.0" fill="#191970"/>
<circle cx="1203.3" cy="1030.1" r="5.0" fill="#191970"/>
<circle cx="1328.2" cy="1028.4" r="5.0" fill="#191970"/>
<circle cx="1309.3" cy="1034.9" r="5.0" fill="#191970"/>
<circle cx="1347.6" cy="1034.0" r="5.0" fill="#2d307e"/>
<circle cx="1126.1" cy="1035.6" r="5.0" fill="#006400"/>
<circle cx="1150.3" cy="1037.3" r="5.0" fill="#191970"/>
<circle cx="1288.4" cy="1039.3" r="5.0" fill="#191970"/>
<circle cx="1161.3" cy="1040.9" r="5.0" fill="#2d307e"/>
<circle cx="1330.8" cy="1048.1" r="5.0" fill="#006400"/>
<circle cx="1289.9" cy="1052.6" r="5.0" fill="#2d307e"/>
<circle cx="1144.1" cy="1064.4" r="5.0" fill="#2d307e"/>
<circle cx="1307.6" cy="1070.6" r="5.0" fill="#191970"/>
<circle cx="1188.2" cy="1082.1" r="5.0" fill="#191970"/>
<circle cx="1194.0" cy="1088.2" r="5.0" fill="#006400"/>
<circle cx="1229.9" cy="1094.9" r="5.0" fill="#191970"/>
<circle cx="1136.9" cy="1096.8" r="5.0" fill="#2d307e"/>
<circle cx="1254.8" cy="1098.9" r="5.0" fill="#191970"/>
<circle cx="1143.4" cy="1102.6" r="5.0" fill="#006400"/>
<circle cx="1155.4" cy="1101.4" r="5.0" fill="#191970"/>
<circle cx="1223.2" cy="1103.0" r="5.0" fill="#191970"/>
<circle cx="1144.6" cy="1109.5" r="5.0" fill="#191970"/>
<circle cx="1139.5" cy="1111.6" r="5.0" fill="#006400"/>
<circle cx="1173.8" cy="1119.5" r="5.0" fill="#191970"/>
<circle cx="1255.3" cy="1122.4" r="5.0" fill="#191970"/>
<circle cx="1212.2" cy="1128.0" r="5.0" fill="#006400"/>
<circle cx="1189.9" cy="1128.7" r="5.0" fill="#191970"/>
<circle cx="1204.8" cy="1131.3" r="5.0" fill="#006400"/>
<circle cx="1190.9" cy="1140.7" r="5.0" fill="#006400"/>
<circle cx="1136.0" cy="1142.6" r="5.0" fill="#191970"/>
<circle cx="1133.5" cy="1143.3" r="5.0" fill="#191970"/>
<circle cx="1128.7" cy="1146.9" r="5.0" fill="#191970"/>
<circle cx="1259.9" cy="1145.5" r="5.0" fill="#191970"/>
<circle cx="1207.9" cy="1158.4" r="5.0" fill="#191970"/>
</g>
<g stroke="#000" stroke-width="3.00" fill="none" stroke-linecap="butt">
<rect x="390.5" y="173.5" width="1092.0" height="1109.0" stroke-linejoin="miter"/>
<line x1="500.5" y1="1282.5" x2="500.5" y2="1297.5"/>
<line x1="640.5" y1="1282.5" x2="640.5" y2="1297.5"/>
<line x1="780.5" y1="1282.5" x2="780.5" y2="1297.5"/>
<line x1="920.5" y1="1282.5" x2="920.5" y2="1297.5"/>
<line x1="1059.5" y1="1282.5" x2="1059.5" y2="1297.5"/>
<line x1="1199.5" y1="1282.5" x2="1199.5" y2="1297.5"/>
<line x1="1339.5" y1="1282.5" x2="1339.5" y2="1297.5"/>
<line x1="1479.5" y1="1282.5" x2="1479.5" y2="1297.5"/>
<line x1="375.1" y1="303.5" x2="390.5" y2="303.5"/>
<line x1="375.1" y1="443.5" x2="390.5" y2="443.5"/>
<line x1="375.1" y1="583.5" x2="390.5" y2="583.5"/>
<line x1="375.1" y1="722.5" x2="390.5" y2="722.5"/>
<line x1="375.1" y1="862.5" x2="390.5" y2="862.5"/>
<line x1="375.1" y1="1002.5" x2="390.5" y2="1002.5"/>
<line x1="375.1" y1="1142.5" x2="390.5" y2="1142.5"/>
</g>
<g font-size="28.70" fill="#000">
<text x="360.8" y="313.8" text-anchor="end">3.00</text>
<text x="360.8" y="453.8" text-anchor="end">2.75</text>
<text x="360.8" y="593.8" text-anchor="end">2.50</text>
<text x="360.8" y="732.8" text-anchor="end">2.25</text>
<text x="360.8" y="872.8" text-anchor="end">2.00</text>
<text x="360.8" y="1012.8" text-anchor="end">1.75</text>
<text x="360.8" y="1152.8" text-anchor="end">1.50</text>
<text transform="translate(502.2,1354.3) rotate(-25)" text-anchor="middle">151.00</text>
<text transform="translate(642.2,1354.3) rotate(-25)" text-anchor="middle">150.75</text>
<text transform="translate(782.2,1354.3) rotate(-25)" text-anchor="middle">150.50</text>
<text transform="translate(922.2,1354.3) rotate(-25)" text-anchor="middle">150.25</text>
<text transform="translate(1061.2,1354.3) rotate(-25)" text-anchor="middle">150.00</text>
<text transform="translate(1201.2,1354.3) rotate(-25)" text-anchor="middle">149.75</text>
<text transform="translate(1341.2,1354.3) rotate(-25)" text-anchor="middle">149.50</text>
<text transform="translate(1481.2,1354.3) rotate(-25)" text-anchor="middle">149.25</text>
</g>
<text x="936" y="1427" font-size="41.67" text-anchor="middle" fill="#000">R.A. (degrees)</text>
<text transform="translate(270,727.5) rotate(-90)" font-size="41.67" text-anchor="middle" fill="#000">Dec. (degrees)</text>
<defs><linearGradient id="cb" gradientUnits="userSpaceOnUse" x1="0" y1="223.0" x2="0" y2="1231.7">
<stop offset="0" stop-color="#006400"/><stop offset="0.5" stop-color="#e0ffff"/><stop offset="1" stop-color="#191970"/></linearGradient></defs>
<path d="M1670.6 223.0 L1708.9 173.0 L1747.3 223.0 L1747.3 1231.7 L1708.9 1281.8 L1670.6 1231.7 Z" fill="url(#cb)" stroke="#000" stroke-width="3.00" stroke-linejoin="miter"/>
<g stroke="#000" stroke-width="3.00">
<line x1="1747.3" y1="269.2" x2="1762.9" y2="269.2"/>
<line x1="1747.3" y1="466.2" x2="1762.9" y2="466.2"/>
<line x1="1747.3" y1="663.2" x2="1762.9" y2="663.2"/>
<line x1="1747.3" y1="860.2" x2="1762.9" y2="860.2"/>
<line x1="1747.3" y1="1057.2" x2="1762.9" y2="1057.2"/>
</g>
<g font-size="28.70" fill="#000">
<text x="1776" y="279.7">20</text>
<text x="1776" y="476.7">10</text>
<text x="1776" y="673.7">0</text>
<text x="1776" y="870.7">−10</text>
<text x="1776" y="1067.7">−20</text>
</g>
<text transform="translate(1719.5,726.8) rotate(-90)" font-size="41.67" text-anchor="middle" fill="#000" stroke="#fff" stroke-width="12.5" stroke-linejoin="round" paint-order="stroke">Ap 12 - PSF [mag]: Stars</text>
</svg></body></html>
